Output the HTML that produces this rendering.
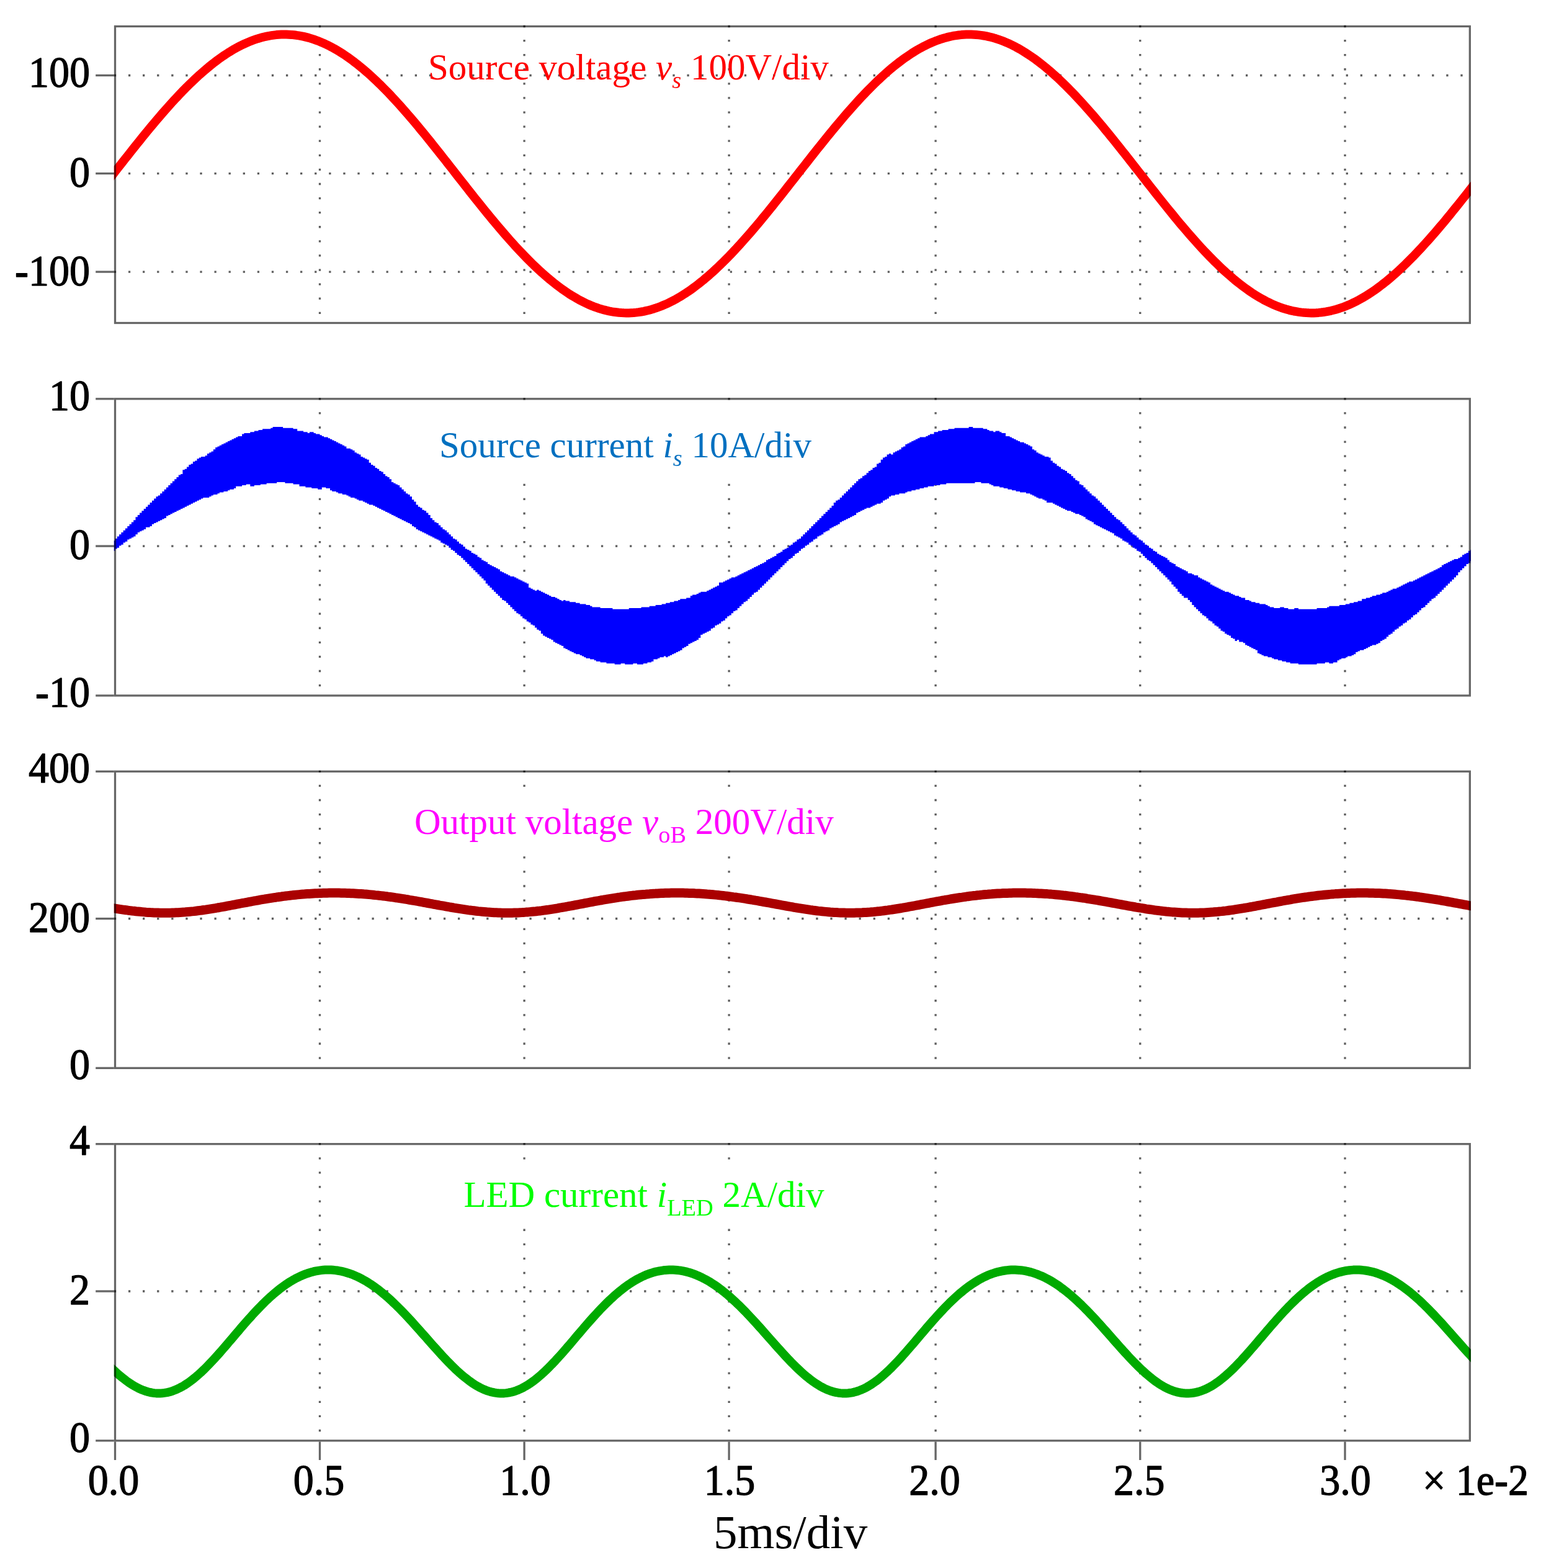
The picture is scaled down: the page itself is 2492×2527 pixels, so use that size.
<!DOCTYPE html>
<html lang="en"><head><meta charset="utf-8"><title>Simulated waveforms</title>
<style>
html,body{margin:0;padding:0;background:#fff;}
body{width:2492px;height:2527px;overflow:hidden;}
svg{display:block;}
text{font-family:'Liberation Serif',serif;}
.tk{font-size:70px;fill:#000;stroke:#000;stroke-width:1.3px;stroke-linejoin:round;}
.an{font-size:59px;}
.sub{font-size:38.4px;}
.it{font-style:italic;}
</style></head><body>
<svg width="2492" height="2527" viewBox="0 0 2492 2527" role="img" aria-label="Simulated waveforms: source voltage, source current, output voltage and LED current">
<rect x="0" y="0" width="2492" height="2527" fill="#fff"/>
<defs>
<clipPath id="c0"><rect x="183.8" y="40.9" width="2187.1" height="481.3"/></clipPath>
<clipPath id="c1"><rect x="183.8" y="641.1" width="2187.1" height="481.5"/></clipPath>
<clipPath id="c2"><rect x="183.8" y="1241.6" width="2187.1" height="481.3"/></clipPath>
<clipPath id="c3"><rect x="183.8" y="1842" width="2187.1" height="481.4"/></clipPath>
<filter id="soft" x="-5%" y="-5%" width="110%" height="110%" color-interpolation-filters="sRGB"><feGaussianBlur stdDeviation="0.7"/></filter>
</defs>
<g fill="none" stroke="rgba(0,0,0,0.63)" stroke-width="3.3" stroke-dasharray="3.3 19.79">
<path d="M515.5 40.85V517.9"/>
<path d="M845.1 40.85V517.9"/>
<path d="M1175.1 40.85V517.9"/>
<path d="M1508.1 40.85V517.9"/>
<path d="M1837.8 40.85V517.9"/>
<path d="M2168 40.85V517.9"/>
<path d="M183.85 121.5H2366.7"/>
<path d="M183.85 279.6H2366.7"/>
<path d="M183.85 438.1H2366.7"/>
<path d="M515.5 641.15V1118.3"/>
<path d="M845.1 641.15V1118.3"/>
<path d="M1175.1 641.15V1118.3"/>
<path d="M1508.1 641.15V1118.3"/>
<path d="M1837.8 641.15V1118.3"/>
<path d="M2168 641.15V1118.3"/>
<path d="M183.85 880.1H2366.7"/>
<path d="M515.5 1241.65V1718.6"/>
<path d="M845.1 1241.65V1718.6"/>
<path d="M1175.1 1241.65V1718.6"/>
<path d="M1508.1 1241.65V1718.6"/>
<path d="M1837.8 1241.65V1718.6"/>
<path d="M2168 1241.65V1718.6"/>
<path d="M183.85 1480.5H2366.7"/>
<path d="M515.5 1842.05V2319.2"/>
<path d="M845.1 1842.05V2319.2"/>
<path d="M1175.1 1842.05V2319.2"/>
<path d="M1508.1 1842.05V2319.2"/>
<path d="M1837.8 1842.05V2319.2"/>
<path d="M2168 1842.05V2319.2"/>
<path d="M183.85 2081H2366.7"/>
</g>
<rect x="690" y="652" width="640" height="118" fill="#fff"/>
<rect x="655" y="1278" width="705" height="92" fill="#fff"/>
<rect x="735" y="1878" width="610" height="92" fill="#fff"/>
<path clip-path="url(#c0)" d="M177.5 287.0L181.5 281.9L185.5 276.8L189.5 271.6L193.5 266.5L197.5 261.4L201.5 256.3L205.5 251.3L209.5 246.2L213.5 241.2L217.5 236.1L221.5 231.1L225.5 226.2L229.5 221.2L233.5 216.3L237.5 211.4L241.5 206.6L245.5 201.7L249.5 197.0L253.5 192.2L257.5 187.6L261.5 182.9L265.5 178.3L269.5 173.8L273.5 169.3L277.5 164.9L281.5 160.5L285.5 156.3L289.5 152.0L293.5 147.8L297.5 143.8L301.5 139.7L305.5 135.8L309.5 131.9L313.5 128.1L317.5 124.4L321.5 120.7L325.5 117.2L329.5 113.7L333.5 110.3L337.5 107.0L341.5 103.8L345.5 100.6L349.5 97.6L353.5 94.7L357.5 91.8L361.5 89.1L365.5 86.5L369.5 83.9L373.5 81.5L377.5 79.1L381.5 76.9L385.5 74.8L389.5 72.8L393.5 70.9L397.5 69.1L401.5 67.4L405.5 65.8L409.5 64.3L413.5 62.9L417.5 61.7L421.5 60.6L425.5 59.5L429.5 58.6L433.5 57.8L437.5 57.2L441.5 56.6L445.5 56.1L449.5 55.8L453.5 55.6L457.5 55.5L461.5 55.5L465.5 55.7L469.5 55.9L473.5 56.3L477.5 56.8L481.5 57.4L485.5 58.1L489.5 58.9L493.5 59.9L497.5 60.9L501.5 62.1L505.5 63.4L509.5 64.8L513.5 66.3L517.5 67.9L521.5 69.6L525.5 71.5L529.5 73.4L533.5 75.5L537.5 77.6L541.5 79.9L545.5 82.3L549.5 84.8L553.5 87.3L557.5 90.0L561.5 92.8L565.5 95.7L569.5 98.6L573.5 101.7L577.5 104.8L581.5 108.1L585.5 111.4L589.5 114.8L593.5 118.3L597.5 121.9L601.5 125.6L605.5 129.3L609.5 133.2L613.5 137.1L617.5 141.1L621.5 145.1L625.5 149.2L629.5 153.4L633.5 157.7L637.5 162.0L641.5 166.4L645.5 170.8L649.5 175.3L653.5 179.9L657.5 184.5L661.5 189.1L665.5 193.8L669.5 198.6L673.5 203.3L677.5 208.2L681.5 213.0L685.5 217.9L689.5 222.9L693.5 227.8L697.5 232.8L701.5 237.8L705.5 242.8L709.5 247.9L713.5 253.0L717.5 258.0L721.5 263.1L725.5 268.2L729.5 273.3L733.5 278.5L737.5 283.6L741.5 288.7L745.5 293.8L749.5 298.9L753.5 304.0L757.5 309.1L761.5 314.1L765.5 319.2L769.5 324.2L773.5 329.2L777.5 334.2L781.5 339.1L785.5 344.0L789.5 348.9L793.5 353.8L797.5 358.6L801.5 363.3L805.5 368.1L809.5 372.7L813.5 377.4L817.5 381.9L821.5 386.5L825.5 390.9L829.5 395.4L833.5 399.7L837.5 404.0L841.5 408.2L845.5 412.4L849.5 416.5L853.5 420.5L857.5 424.5L861.5 428.3L865.5 432.1L869.5 435.8L873.5 439.5L877.5 443.0L881.5 446.5L885.5 449.9L889.5 453.2L893.5 456.4L897.5 459.5L901.5 462.5L905.5 465.5L909.5 468.3L913.5 471.0L917.5 473.7L921.5 476.2L925.5 478.6L929.5 480.9L933.5 483.2L937.5 485.3L941.5 487.3L945.5 489.2L949.5 491.0L953.5 492.7L957.5 494.3L961.5 495.7L965.5 497.1L969.5 498.3L973.5 499.4L977.5 500.4L981.5 501.3L985.5 502.1L989.5 502.8L993.5 503.3L997.5 503.8L1001.5 504.1L1005.5 504.3L1009.5 504.4L1013.5 504.4L1017.5 504.2L1021.5 504.0L1025.5 503.6L1029.5 503.1L1033.5 502.5L1037.5 501.8L1041.5 500.9L1045.5 500.0L1049.5 498.9L1053.5 497.7L1057.5 496.4L1061.5 495.0L1065.5 493.5L1069.5 491.8L1073.5 490.1L1077.5 488.3L1081.5 486.3L1085.5 484.2L1089.5 482.1L1093.5 479.8L1097.5 477.4L1101.5 474.9L1105.5 472.3L1109.5 469.7L1113.5 466.9L1117.5 464.0L1121.5 461.0L1125.5 458.0L1129.5 454.8L1133.5 451.6L1137.5 448.2L1141.5 444.8L1145.5 441.3L1149.5 437.7L1153.5 434.0L1157.5 430.2L1161.5 426.4L1165.5 422.5L1169.5 418.5L1173.5 414.5L1177.5 410.3L1181.5 406.1L1185.5 401.9L1189.5 397.5L1193.5 393.2L1197.5 388.7L1201.5 384.2L1205.5 379.7L1209.5 375.1L1213.5 370.4L1217.5 365.7L1221.5 360.9L1225.5 356.2L1229.5 351.3L1233.5 346.5L1237.5 341.6L1241.5 336.6L1245.5 331.7L1249.5 326.7L1253.5 321.7L1257.5 316.6L1261.5 311.6L1265.5 306.5L1269.5 301.4L1273.5 296.3L1277.5 291.2L1281.5 286.1L1285.5 281.0L1289.5 275.9L1293.5 270.8L1297.5 265.7L1301.5 260.6L1305.5 255.5L1309.5 250.4L1313.5 245.4L1317.5 240.3L1321.5 235.3L1325.5 230.3L1329.5 225.3L1333.5 220.4L1337.5 215.5L1341.5 210.6L1345.5 205.7L1349.5 200.9L1353.5 196.2L1357.5 191.5L1361.5 186.8L1365.5 182.2L1369.5 177.6L1373.5 173.1L1377.5 168.6L1381.5 164.2L1385.5 159.8L1389.5 155.5L1393.5 151.3L1397.5 147.2L1401.5 143.1L1405.5 139.1L1409.5 135.1L1413.5 131.2L1417.5 127.5L1421.5 123.7L1425.5 120.1L1429.5 116.6L1433.5 113.1L1437.5 109.7L1441.5 106.4L1445.5 103.2L1449.5 100.1L1453.5 97.1L1457.5 94.2L1461.5 91.4L1465.5 88.7L1469.5 86.0L1473.5 83.5L1477.5 81.1L1481.5 78.8L1485.5 76.6L1489.5 74.4L1493.5 72.4L1497.5 70.5L1501.5 68.8L1505.5 67.1L1509.5 65.5L1513.5 64.1L1517.5 62.7L1521.5 61.5L1525.5 60.4L1529.5 59.4L1533.5 58.5L1537.5 57.7L1541.5 57.1L1545.5 56.5L1549.5 56.1L1553.5 55.8L1557.5 55.6L1561.5 55.5L1565.5 55.5L1569.5 55.7L1573.5 56.0L1577.5 56.4L1581.5 56.9L1585.5 57.5L1589.5 58.2L1593.5 59.1L1597.5 60.0L1601.5 61.1L1605.5 62.3L1609.5 63.6L1613.5 65.0L1617.5 66.6L1621.5 68.2L1625.5 69.9L1629.5 71.8L1633.5 73.8L1637.5 75.8L1641.5 78.0L1645.5 80.3L1649.5 82.7L1653.5 85.2L1657.5 87.8L1661.5 90.5L1665.5 93.3L1669.5 96.1L1673.5 99.1L1677.5 102.2L1681.5 105.4L1685.5 108.6L1689.5 112.0L1693.5 115.4L1697.5 118.9L1701.5 122.5L1705.5 126.2L1709.5 130.0L1713.5 133.8L1717.5 137.7L1721.5 141.7L1725.5 145.8L1729.5 149.9L1733.5 154.1L1737.5 158.4L1741.5 162.7L1745.5 167.1L1749.5 171.6L1753.5 176.1L1757.5 180.6L1761.5 185.2L1765.5 189.9L1769.5 194.6L1773.5 199.3L1777.5 204.1L1781.5 209.0L1785.5 213.8L1789.5 218.7L1793.5 223.7L1797.5 228.6L1801.5 233.6L1805.5 238.6L1809.5 243.7L1813.5 248.7L1817.5 253.8L1821.5 258.9L1825.5 264.0L1829.5 269.1L1833.5 274.2L1837.5 279.3L1841.5 284.4L1845.5 289.5L1849.5 294.6L1853.5 299.7L1857.5 304.8L1861.5 309.9L1865.5 315.0L1869.5 320.0L1873.5 325.0L1877.5 330.0L1881.5 335.0L1885.5 339.9L1889.5 344.8L1893.5 349.7L1897.5 354.6L1901.5 359.4L1905.5 364.1L1909.5 368.8L1913.5 373.5L1917.5 378.1L1921.5 382.7L1925.5 387.2L1929.5 391.7L1933.5 396.1L1937.5 400.4L1941.5 404.7L1945.5 408.9L1949.5 413.1L1953.5 417.2L1957.5 421.2L1961.5 425.1L1965.5 429.0L1969.5 432.8L1973.5 436.5L1977.5 440.1L1981.5 443.6L1985.5 447.1L1989.5 450.5L1993.5 453.7L1997.5 456.9L2001.5 460.0L2005.5 463.0L2009.5 465.9L2013.5 468.7L2017.5 471.5L2021.5 474.1L2025.5 476.6L2029.5 479.0L2033.5 481.3L2037.5 483.5L2041.5 485.6L2045.5 487.6L2049.5 489.5L2053.5 491.3L2057.5 492.9L2061.5 494.5L2065.5 496.0L2069.5 497.3L2073.5 498.5L2077.5 499.6L2081.5 500.6L2085.5 501.5L2089.5 502.2L2093.5 502.9L2097.5 503.4L2101.5 503.8L2105.5 504.1L2109.5 504.3L2113.5 504.4L2117.5 504.4L2121.5 504.2L2125.5 503.9L2129.5 503.5L2133.5 503.0L2137.5 502.4L2141.5 501.6L2145.5 500.8L2149.5 499.8L2153.5 498.7L2157.5 497.5L2161.5 496.2L2165.5 494.8L2169.5 493.2L2173.5 491.6L2177.5 489.8L2181.5 487.9L2185.5 486.0L2189.5 483.9L2193.5 481.7L2197.5 479.4L2201.5 477.0L2205.5 474.5L2209.5 471.9L2213.5 469.2L2217.5 466.4L2221.5 463.5L2225.5 460.5L2229.5 457.4L2233.5 454.3L2237.5 451.0L2241.5 447.6L2245.5 444.2L2249.5 440.7L2253.5 437.1L2257.5 433.4L2261.5 429.6L2265.5 425.8L2269.5 421.8L2273.5 417.8L2277.5 413.8L2281.5 409.6L2285.5 405.4L2289.5 401.2L2293.5 396.8L2297.5 392.4L2301.5 388.0L2305.5 383.5L2309.5 378.9L2313.5 374.3L2317.5 369.6L2321.5 364.9L2325.5 360.2L2329.5 355.4L2333.5 350.5L2337.5 345.7L2341.5 340.7L2345.5 335.8L2349.5 330.8L2353.5 325.9L2357.5 320.8L2361.5 315.8L2365.5 310.7L2369.5 305.7L2373.5 300.6L2377.3 295.7" fill="none" stroke="#ff0000" stroke-width="14.0" stroke-linejoin="round"/>
<path clip-path="url(#c1)" d="M175.6 876.1L178.9 876.1L178.9 874.5L182.2 874.5L182.2 871.2L185.5 871.2L185.5 867.9L188.8 867.9L188.8 864.6L192.1 864.6L192.1 861.3L195.4 861.3L195.4 858.0L198.7 858.0L198.7 854.7L202.0 854.7L202.0 851.4L205.3 851.4L205.3 848.1L208.6 848.1L208.6 844.8L211.9 844.8L211.9 841.5L215.2 841.5L215.2 838.2L218.5 838.2L218.5 833.2L221.8 833.2L221.8 829.9L225.1 829.9L225.1 826.6L228.4 826.6L228.4 823.3L231.7 823.3L231.7 820.0L235.0 820.0L235.0 816.8L238.3 816.8L238.3 813.4L241.6 813.4L241.6 810.1L244.9 810.1L244.9 806.8L248.2 806.8L248.2 803.5L251.5 803.5L251.5 800.2L254.8 800.2L254.8 798.6L258.1 798.6L258.1 795.3L261.4 795.3L261.4 792.0L264.7 792.0L264.7 788.7L268.0 788.7L268.0 785.4L271.3 785.4L271.3 782.1L274.6 782.1L274.6 778.8L277.9 778.8L277.9 775.5L281.2 775.5L281.2 772.2L284.5 772.2L284.5 768.9L287.8 768.9L287.8 765.6L291.1 765.6L291.1 763.9L294.4 763.9L294.4 757.3L297.7 757.3L297.7 755.7L301.0 755.7L301.0 752.4L304.3 752.4L304.3 749.1L307.6 749.1L307.6 747.4L310.9 747.4L310.9 744.1L314.2 744.1L314.2 742.5L317.5 742.5L317.5 739.2L320.8 739.2L320.8 737.5L324.1 737.5L324.1 735.9L327.4 735.9L327.4 735.9L330.7 735.9L330.7 734.2L334.0 734.2L334.0 730.9L337.3 730.9L337.3 729.3L340.6 729.3L340.6 727.6L343.9 727.6L343.9 724.3L347.2 724.3L347.2 721.0L350.5 721.0L350.5 719.4L353.8 719.4L353.8 717.8L357.1 717.8L357.1 716.1L360.4 716.1L360.4 714.4L363.7 714.4L363.7 712.8L367.0 712.8L367.0 711.1L370.3 711.1L370.3 709.5L373.6 709.5L373.6 707.8L376.9 707.8L376.9 706.2L380.2 706.2L380.2 704.5L383.5 704.5L383.5 702.9L386.8 702.9L386.8 702.9L390.1 702.9L390.1 699.6L393.4 699.6L393.4 697.9L396.7 697.9L396.7 697.9L400.0 697.9L400.0 697.9L403.3 697.9L403.3 696.3L406.6 696.3L406.6 696.3L409.9 696.3L409.9 694.6L413.2 694.6L413.2 694.6L416.5 694.6L416.5 693.0L419.8 693.0L419.8 693.0L423.1 693.0L423.1 691.3L426.4 691.3L426.4 691.3L429.7 691.3L429.7 691.3L433.0 691.3L433.0 691.3L436.3 691.3L436.3 689.7L439.6 689.7L439.6 688.0L442.9 688.0L442.9 688.0L446.2 688.0L446.2 688.0L449.5 688.0L449.5 688.0L452.8 688.0L452.8 688.0L456.1 688.0L456.1 689.7L459.4 689.7L459.4 689.7L462.7 689.7L462.7 689.7L466.0 689.7L466.0 689.7L469.3 689.7L469.3 689.7L472.6 689.7L472.6 691.3L475.9 691.3L475.9 691.3L479.2 691.3L479.2 694.6L482.5 694.6L482.5 694.6L485.8 694.6L485.8 694.6L489.1 694.6L489.1 696.3L492.4 696.3L492.4 696.3L495.7 696.3L495.7 697.9L499.0 697.9L499.0 696.3L502.3 696.3L502.3 696.3L505.6 696.3L505.6 697.9L508.9 697.9L508.9 699.6L512.2 699.6L512.2 699.6L515.5 699.6L515.5 701.2L518.8 701.2L518.8 702.9L522.1 702.9L522.1 704.5L525.4 704.5L525.4 704.5L528.7 704.5L528.7 706.2L532.0 706.2L532.0 707.8L535.3 707.8L535.3 709.5L538.6 709.5L538.6 711.1L541.9 711.1L541.9 712.8L545.2 712.8L545.2 714.4L548.5 714.4L548.5 716.1L551.8 716.1L551.8 717.8L555.1 717.8L555.1 719.4L558.4 719.4L558.4 722.7L561.7 722.7L561.7 722.7L565.0 722.7L565.0 724.3L568.3 724.3L568.3 726.0L571.6 726.0L571.6 729.3L574.9 729.3L574.9 730.9L578.2 730.9L578.2 732.6L581.5 732.6L581.5 735.9L584.8 735.9L584.8 737.5L588.1 737.5L588.1 739.2L591.4 739.2L591.4 740.8L594.7 740.8L594.7 745.8L598.0 745.8L598.0 749.1L601.3 749.1L601.3 750.8L604.6 750.8L604.6 754.0L607.9 754.0L607.9 755.7L611.2 755.7L611.2 759.0L614.5 759.0L614.5 760.6L617.8 760.6L617.8 763.9L621.1 763.9L621.1 767.2L624.4 767.2L624.4 768.9L627.7 768.9L627.7 772.2L631.0 772.2L631.0 777.1L634.3 777.1L634.3 778.8L637.6 778.8L637.6 780.4L640.9 780.4L640.9 782.1L644.2 782.1L644.2 785.4L647.5 785.4L647.5 788.7L650.8 788.7L650.8 792.0L654.1 792.0L654.1 795.3L657.4 795.3L657.4 796.9L660.7 796.9L660.7 800.2L664.0 800.2L664.0 805.2L667.3 805.2L667.3 808.5L670.6 808.5L670.6 813.4L673.9 813.4L673.9 816.8L677.2 816.8L677.2 818.4L680.5 818.4L680.5 821.7L683.8 821.7L683.8 823.3L687.1 823.3L687.1 826.6L690.4 826.6L690.4 829.9L693.7 829.9L693.7 834.9L697.0 834.9L697.0 838.2L700.3 838.2L700.3 841.5L703.6 841.5L703.6 843.1L706.9 843.1L706.9 846.4L710.2 846.4L710.2 849.8L713.5 849.8L713.5 853.0L716.8 853.0L716.8 854.7L720.1 854.7L720.1 858.0L723.4 858.0L723.4 861.3L726.7 861.3L726.7 864.6L730.0 864.6L730.0 867.9L733.3 867.9L733.3 869.5L736.6 869.5L736.6 872.8L739.9 872.8L739.9 876.1L743.2 876.1L743.2 877.8L746.5 877.8L746.5 881.1L749.8 881.1L749.8 884.4L753.1 884.4L753.1 886.0L756.4 886.0L756.4 887.7L759.7 887.7L759.7 891.0L763.0 891.0L763.0 892.6L766.3 892.6L766.3 894.3L769.6 894.3L769.6 897.6L772.9 897.6L772.9 899.2L776.2 899.2L776.2 902.5L779.5 902.5L779.5 904.2L782.8 904.2L782.8 905.8L786.1 905.8L786.1 909.1L789.4 909.1L789.4 910.8L792.7 910.8L792.7 912.4L796.0 912.4L796.0 914.1L799.3 914.1L799.3 915.8L802.6 915.8L802.6 917.4L805.9 917.4L805.9 920.7L809.2 920.7L809.2 922.3L812.5 922.3L812.5 924.0L815.8 924.0L815.8 925.6L819.1 925.6L819.1 927.3L822.4 927.3L822.4 928.9L825.7 928.9L825.7 928.9L829.0 928.9L829.0 930.6L832.3 930.6L832.3 932.2L835.6 932.2L835.6 933.9L838.9 933.9L838.9 935.5L842.2 935.5L842.2 937.2L845.5 937.2L845.5 938.8L848.8 938.8L848.8 940.5L852.1 940.5L852.1 947.1L855.4 947.1L855.4 948.8L858.7 948.8L858.7 950.4L862.0 950.4L862.0 952.0L865.3 952.0L865.3 950.4L868.6 950.4L868.6 952.0L871.9 952.0L871.9 953.7L875.2 953.7L875.2 955.3L878.5 955.3L878.5 957.0L881.8 957.0L881.8 958.6L885.1 958.6L885.1 960.3L888.4 960.3L888.4 961.9L891.7 961.9L891.7 961.9L895.0 961.9L895.0 963.6L898.3 963.6L898.3 965.2L901.6 965.2L901.6 966.9L904.9 966.9L904.9 968.5L908.2 968.5L908.2 966.9L911.5 966.9L911.5 968.5L914.8 968.5L914.8 968.5L918.1 968.5L918.1 970.2L921.4 970.2L921.4 970.2L924.7 970.2L924.7 970.2L928.0 970.2L928.0 971.8L931.3 971.8L931.3 971.8L934.6 971.8L934.6 973.5L937.9 973.5L937.9 973.5L941.2 973.5L941.2 973.5L944.5 973.5L944.5 975.1L947.8 975.1L947.8 975.1L951.1 975.1L951.1 976.8L954.4 976.8L954.4 978.4L957.7 978.4L957.7 978.4L961.0 978.4L961.0 978.4L964.3 978.4L964.3 978.4L967.6 978.4L967.6 980.1L970.9 980.1L970.9 980.1L974.2 980.1L974.2 980.1L977.5 980.1L977.5 980.1L980.8 980.1L980.8 980.1L984.1 980.1L984.1 980.1L987.4 980.1L987.4 981.8L990.7 981.8L990.7 981.8L994.0 981.8L994.0 981.8L997.3 981.8L997.3 981.8L1000.6 981.8L1000.6 981.8L1003.9 981.8L1003.9 981.8L1007.2 981.8L1007.2 981.8L1010.5 981.8L1010.5 981.8L1013.8 981.8L1013.8 980.1L1017.1 980.1L1017.1 980.1L1020.4 980.1L1020.4 980.1L1023.7 980.1L1023.7 980.1L1027.0 980.1L1027.0 980.1L1030.3 980.1L1030.3 980.1L1033.6 980.1L1033.6 978.4L1036.9 978.4L1036.9 978.4L1040.2 978.4L1040.2 978.4L1043.5 978.4L1043.5 978.4L1046.8 978.4L1046.8 976.8L1050.1 976.8L1050.1 976.8L1053.4 976.8L1053.4 976.8L1056.7 976.8L1056.7 975.1L1060.0 975.1L1060.0 975.1L1063.3 975.1L1063.3 975.1L1066.6 975.1L1066.6 973.5L1069.9 973.5L1069.9 973.5L1073.2 973.5L1073.2 971.8L1076.5 971.8L1076.5 971.8L1079.8 971.8L1079.8 970.2L1083.1 970.2L1083.1 970.2L1086.4 970.2L1086.4 968.5L1089.7 968.5L1089.7 968.5L1093.0 968.5L1093.0 966.9L1096.3 966.9L1096.3 965.2L1099.6 965.2L1099.6 965.2L1102.9 965.2L1102.9 965.2L1106.2 965.2L1106.2 963.6L1109.5 963.6L1109.5 963.6L1112.8 963.6L1112.8 960.3L1116.1 960.3L1116.1 958.6L1119.4 958.6L1119.4 958.6L1122.7 958.6L1122.7 957.0L1126.0 957.0L1126.0 955.3L1129.3 955.3L1129.3 953.7L1132.6 953.7L1132.6 953.7L1135.9 953.7L1135.9 953.7L1139.2 953.7L1139.2 952.0L1142.5 952.0L1142.5 950.4L1145.8 950.4L1145.8 948.8L1149.1 948.8L1149.1 947.1L1152.4 947.1L1152.4 945.4L1155.7 945.4L1155.7 943.8L1159.0 943.8L1159.0 938.8L1162.3 938.8L1162.3 938.8L1165.6 938.8L1165.6 937.2L1168.9 937.2L1168.9 935.5L1172.2 935.5L1172.2 933.9L1175.5 933.9L1175.5 932.2L1178.8 932.2L1178.8 930.6L1182.1 930.6L1182.1 930.6L1185.4 930.6L1185.4 928.9L1188.7 928.9L1188.7 927.3L1192.0 927.3L1192.0 925.6L1195.3 925.6L1195.3 924.0L1198.6 924.0L1198.6 922.3L1201.9 922.3L1201.9 920.7L1205.2 920.7L1205.2 919.0L1208.5 919.0L1208.5 917.4L1211.8 917.4L1211.8 915.8L1215.1 915.8L1215.1 914.1L1218.4 914.1L1218.4 912.4L1221.7 912.4L1221.7 910.8L1225.0 910.8L1225.0 909.1L1228.3 909.1L1228.3 907.5L1231.6 907.5L1231.6 905.8L1234.9 905.8L1234.9 902.5L1238.2 902.5L1238.2 900.9L1241.5 900.9L1241.5 899.2L1244.8 899.2L1244.8 897.6L1248.1 897.6L1248.1 895.9L1251.4 895.9L1251.4 892.6L1254.7 892.6L1254.7 891.0L1258.0 891.0L1258.0 889.3L1261.3 889.3L1261.3 886.0L1264.6 886.0L1264.6 884.4L1267.9 884.4L1267.9 882.8L1271.2 882.8L1271.2 879.4L1274.5 879.4L1274.5 877.8L1277.8 877.8L1277.8 874.5L1281.1 874.5L1281.1 872.8L1284.4 872.8L1284.4 869.5L1287.7 869.5L1287.7 867.9L1291.0 867.9L1291.0 864.6L1294.3 864.6L1294.3 861.3L1297.6 861.3L1297.6 858.0L1300.9 858.0L1300.9 854.7L1304.2 854.7L1304.2 851.4L1307.5 851.4L1307.5 848.1L1310.8 848.1L1310.8 844.8L1314.1 844.8L1314.1 841.5L1317.4 841.5L1317.4 838.2L1320.7 838.2L1320.7 834.9L1324.0 834.9L1324.0 831.6L1327.3 831.6L1327.3 828.3L1330.6 828.3L1330.6 825.0L1333.9 825.0L1333.9 821.7L1337.2 821.7L1337.2 818.4L1340.5 818.4L1340.5 815.1L1343.8 815.1L1343.8 810.1L1347.1 810.1L1347.1 806.8L1350.4 806.8L1350.4 805.2L1353.7 805.2L1353.7 801.9L1357.0 801.9L1357.0 798.6L1360.3 798.6L1360.3 795.3L1363.6 795.3L1363.6 792.0L1366.9 792.0L1366.9 788.7L1370.2 788.7L1370.2 785.4L1373.5 785.4L1373.5 782.1L1376.8 782.1L1376.8 778.8L1380.1 778.8L1380.1 775.5L1383.4 775.5L1383.4 772.2L1386.7 772.2L1386.7 770.5L1390.0 770.5L1390.0 767.2L1393.3 767.2L1393.3 765.6L1396.6 765.6L1396.6 762.3L1399.9 762.3L1399.9 759.0L1403.2 759.0L1403.2 757.3L1406.5 757.3L1406.5 754.0L1409.8 754.0L1409.8 752.4L1413.1 752.4L1413.1 747.4L1416.4 747.4L1416.4 745.8L1419.7 745.8L1419.7 740.8L1423.0 740.8L1423.0 737.5L1426.3 737.5L1426.3 735.9L1429.6 735.9L1429.6 732.6L1432.9 732.6L1432.9 730.9L1436.2 730.9L1436.2 732.6L1439.5 732.6L1439.5 729.3L1442.8 729.3L1442.8 727.6L1446.1 727.6L1446.1 726.0L1449.4 726.0L1449.4 724.3L1452.7 724.3L1452.7 721.0L1456.0 721.0L1456.0 719.4L1459.3 719.4L1459.3 716.1L1462.6 716.1L1462.6 714.4L1465.9 714.4L1465.9 712.8L1469.2 712.8L1469.2 711.1L1472.5 711.1L1472.5 709.5L1475.8 709.5L1475.8 707.8L1479.1 707.8L1479.1 706.2L1482.4 706.2L1482.4 704.5L1485.7 704.5L1485.7 704.5L1489.0 704.5L1489.0 704.5L1492.3 704.5L1492.3 702.9L1495.6 702.9L1495.6 701.2L1498.9 701.2L1498.9 699.6L1502.2 699.6L1502.2 699.6L1505.5 699.6L1505.5 696.3L1508.8 696.3L1508.8 696.3L1512.1 696.3L1512.1 694.6L1515.4 694.6L1515.4 694.6L1518.7 694.6L1518.7 693.0L1522.0 693.0L1522.0 693.0L1525.3 693.0L1525.3 693.0L1528.6 693.0L1528.6 691.3L1531.9 691.3L1531.9 691.3L1535.2 691.3L1535.2 691.3L1538.5 691.3L1538.5 689.7L1541.8 689.7L1541.8 689.7L1545.1 689.7L1545.1 689.7L1548.4 689.7L1548.4 689.7L1551.7 689.7L1551.7 689.7L1555.0 689.7L1555.0 689.7L1558.3 689.7L1558.3 689.7L1561.6 689.7L1561.6 688.0L1564.9 688.0L1564.9 688.0L1568.2 688.0L1568.2 689.7L1571.5 689.7L1571.5 689.7L1574.8 689.7L1574.8 689.7L1578.1 689.7L1578.1 689.7L1581.4 689.7L1581.4 689.7L1584.7 689.7L1584.7 691.3L1588.0 691.3L1588.0 691.3L1591.3 691.3L1591.3 693.0L1594.6 693.0L1594.6 694.6L1597.9 694.6L1597.9 694.6L1601.2 694.6L1601.2 696.3L1604.5 696.3L1604.5 694.6L1607.8 694.6L1607.8 694.6L1611.1 694.6L1611.1 696.3L1614.4 696.3L1614.4 697.9L1617.7 697.9L1617.7 697.9L1621.0 697.9L1621.0 702.9L1624.3 702.9L1624.3 702.9L1627.6 702.9L1627.6 704.5L1630.9 704.5L1630.9 706.2L1634.2 706.2L1634.2 707.8L1637.5 707.8L1637.5 709.5L1640.8 709.5L1640.8 711.1L1644.1 711.1L1644.1 712.8L1647.4 712.8L1647.4 712.8L1650.7 712.8L1650.7 714.4L1654.0 714.4L1654.0 716.1L1657.3 716.1L1657.3 717.8L1660.6 717.8L1660.6 719.4L1663.9 719.4L1663.9 724.3L1667.2 724.3L1667.2 726.0L1670.5 726.0L1670.5 729.3L1673.8 729.3L1673.8 730.9L1677.1 730.9L1677.1 732.6L1680.4 732.6L1680.4 734.2L1683.7 734.2L1683.7 735.9L1687.0 735.9L1687.0 735.9L1690.3 735.9L1690.3 737.5L1693.6 737.5L1693.6 742.5L1696.9 742.5L1696.9 745.8L1700.2 745.8L1700.2 747.4L1703.5 747.4L1703.5 750.8L1706.8 750.8L1706.8 752.4L1710.1 752.4L1710.1 755.7L1713.4 755.7L1713.4 757.3L1716.7 757.3L1716.7 759.0L1720.0 759.0L1720.0 762.3L1723.3 762.3L1723.3 763.9L1726.6 763.9L1726.6 767.2L1729.9 767.2L1729.9 770.5L1733.2 770.5L1733.2 773.8L1736.5 773.8L1736.5 775.5L1739.8 775.5L1739.8 780.4L1743.1 780.4L1743.1 782.1L1746.4 782.1L1746.4 785.4L1749.7 785.4L1749.7 788.7L1753.0 788.7L1753.0 792.0L1756.3 792.0L1756.3 795.3L1759.6 795.3L1759.6 798.6L1762.9 798.6L1762.9 800.2L1766.2 800.2L1766.2 803.5L1769.5 803.5L1769.5 806.8L1772.8 806.8L1772.8 810.1L1776.1 810.1L1776.1 813.4L1779.4 813.4L1779.4 816.8L1782.7 816.8L1782.7 820.0L1786.0 820.0L1786.0 823.3L1789.3 823.3L1789.3 826.6L1792.6 826.6L1792.6 829.9L1795.9 829.9L1795.9 833.2L1799.2 833.2L1799.2 836.5L1802.5 836.5L1802.5 838.2L1805.8 838.2L1805.8 841.5L1809.1 841.5L1809.1 844.8L1812.4 844.8L1812.4 848.1L1815.7 848.1L1815.7 851.4L1819.0 851.4L1819.0 854.7L1822.3 854.7L1822.3 858.0L1825.6 858.0L1825.6 861.3L1828.9 861.3L1828.9 862.9L1832.2 862.9L1832.2 866.2L1835.5 866.2L1835.5 869.5L1838.8 869.5L1838.8 871.2L1842.1 871.2L1842.1 874.5L1845.4 874.5L1845.4 877.8L1848.7 877.8L1848.7 879.4L1852.0 879.4L1852.0 882.8L1855.3 882.8L1855.3 884.4L1858.6 884.4L1858.6 887.7L1861.9 887.7L1861.9 889.3L1865.2 889.3L1865.2 892.6L1868.5 892.6L1868.5 894.3L1871.8 894.3L1871.8 895.9L1875.1 895.9L1875.1 897.6L1878.4 897.6L1878.4 899.2L1881.7 899.2L1881.7 902.5L1885.0 902.5L1885.0 905.8L1888.3 905.8L1888.3 907.5L1891.6 907.5L1891.6 909.1L1894.9 909.1L1894.9 912.4L1898.2 912.4L1898.2 914.1L1901.5 914.1L1901.5 915.8L1904.8 915.8L1904.8 917.4L1908.1 917.4L1908.1 919.0L1911.4 919.0L1911.4 920.7L1914.7 920.7L1914.7 924.0L1918.0 924.0L1918.0 924.0L1921.3 924.0L1921.3 925.6L1924.6 925.6L1924.6 927.3L1927.9 927.3L1927.9 927.3L1931.2 927.3L1931.2 930.6L1934.5 930.6L1934.5 932.2L1937.8 932.2L1937.8 933.9L1941.1 933.9L1941.1 935.5L1944.4 935.5L1944.4 937.2L1947.7 937.2L1947.7 938.8L1951.0 938.8L1951.0 942.1L1954.3 942.1L1954.3 943.8L1957.6 943.8L1957.6 945.4L1960.9 945.4L1960.9 947.1L1964.2 947.1L1964.2 948.8L1967.5 948.8L1967.5 950.4L1970.8 950.4L1970.8 952.0L1974.1 952.0L1974.1 953.7L1977.4 953.7L1977.4 953.7L1980.7 953.7L1980.7 955.3L1984.0 955.3L1984.0 957.0L1987.3 957.0L1987.3 958.6L1990.6 958.6L1990.6 960.3L1993.9 960.3L1993.9 960.3L1997.2 960.3L1997.2 961.9L2000.5 961.9L2000.5 963.6L2003.8 963.6L2003.8 963.6L2007.1 963.6L2007.1 966.9L2010.4 966.9L2010.4 966.9L2013.7 966.9L2013.7 968.5L2017.0 968.5L2017.0 970.2L2020.3 970.2L2020.3 970.2L2023.6 970.2L2023.6 971.8L2026.9 971.8L2026.9 971.8L2030.2 971.8L2030.2 973.5L2033.5 973.5L2033.5 973.5L2036.8 973.5L2036.8 973.5L2040.1 973.5L2040.1 975.1L2043.4 975.1L2043.4 976.8L2046.7 976.8L2046.7 978.4L2050.0 978.4L2050.0 978.4L2053.3 978.4L2053.3 980.1L2056.6 980.1L2056.6 980.1L2059.9 980.1L2059.9 980.1L2063.2 980.1L2063.2 978.4L2066.5 978.4L2066.5 978.4L2069.8 978.4L2069.8 980.1L2073.1 980.1L2073.1 980.1L2076.4 980.1L2076.4 981.8L2079.7 981.8L2079.7 981.8L2083.0 981.8L2083.0 981.8L2086.3 981.8L2086.3 980.1L2089.6 980.1L2089.6 980.1L2092.9 980.1L2092.9 981.8L2096.2 981.8L2096.2 981.8L2099.5 981.8L2099.5 981.8L2102.8 981.8L2102.8 981.8L2106.1 981.8L2106.1 981.8L2109.4 981.8L2109.4 981.8L2112.7 981.8L2112.7 981.8L2116.0 981.8L2116.0 981.8L2119.3 981.8L2119.3 981.8L2122.6 981.8L2122.6 980.1L2125.9 980.1L2125.9 980.1L2129.2 980.1L2129.2 980.1L2132.5 980.1L2132.5 980.1L2135.8 980.1L2135.8 980.1L2139.1 980.1L2139.1 978.4L2142.4 978.4L2142.4 976.8L2145.7 976.8L2145.7 976.8L2149.0 976.8L2149.0 976.8L2152.3 976.8L2152.3 976.8L2155.6 976.8L2155.6 976.8L2158.9 976.8L2158.9 975.1L2162.2 975.1L2162.2 975.1L2165.5 975.1L2165.5 975.1L2168.8 975.1L2168.8 973.5L2172.1 973.5L2172.1 973.5L2175.4 973.5L2175.4 971.8L2178.7 971.8L2178.7 971.8L2182.0 971.8L2182.0 970.2L2185.3 970.2L2185.3 970.2L2188.6 970.2L2188.6 968.5L2191.9 968.5L2191.9 968.5L2195.2 968.5L2195.2 965.2L2198.5 965.2L2198.5 965.2L2201.8 965.2L2201.8 963.6L2205.1 963.6L2205.1 963.6L2208.4 963.6L2208.4 961.9L2211.7 961.9L2211.7 960.3L2215.0 960.3L2215.0 960.3L2218.3 960.3L2218.3 958.6L2221.6 958.6L2221.6 958.6L2224.9 958.6L2224.9 957.0L2228.2 957.0L2228.2 955.3L2231.5 955.3L2231.5 955.3L2234.8 955.3L2234.8 953.7L2238.1 953.7L2238.1 952.0L2241.4 952.0L2241.4 950.4L2244.7 950.4L2244.7 948.8L2248.0 948.8L2248.0 948.8L2251.3 948.8L2251.3 947.1L2254.6 947.1L2254.6 945.4L2257.9 945.4L2257.9 943.8L2261.2 943.8L2261.2 942.1L2264.5 942.1L2264.5 940.5L2267.8 940.5L2267.8 938.8L2271.1 938.8L2271.1 937.2L2274.4 937.2L2274.4 937.2L2277.7 937.2L2277.7 935.5L2281.0 935.5L2281.0 933.9L2284.3 933.9L2284.3 932.2L2287.6 932.2L2287.6 930.6L2290.9 930.6L2290.9 928.9L2294.2 928.9L2294.2 927.3L2297.5 927.3L2297.5 925.6L2300.8 925.6L2300.8 924.0L2304.1 924.0L2304.1 922.3L2307.4 922.3L2307.4 920.7L2310.7 920.7L2310.7 919.0L2314.0 919.0L2314.0 917.4L2317.3 917.4L2317.3 915.8L2320.6 915.8L2320.6 914.1L2323.9 914.1L2323.9 910.8L2327.2 910.8L2327.2 909.1L2330.5 909.1L2330.5 907.5L2333.8 907.5L2333.8 905.8L2337.1 905.8L2337.1 904.2L2340.4 904.2L2340.4 902.5L2343.7 902.5L2343.7 900.9L2347.0 900.9L2347.0 900.9L2350.3 900.9L2350.3 899.2L2353.6 899.2L2353.6 897.6L2356.9 897.6L2356.9 894.3L2360.2 894.3L2360.2 892.6L2363.5 892.6L2363.5 891.0L2366.8 891.0L2366.8 887.7L2370.1 887.7L2370.1 886.0L2373.4 886.0L2373.4 882.8L2376.7 882.8L2376.7 881.1L2380.0 881.1L2380.0 877.8L2383.3 877.8L2383.3 894.3L2380.0 894.3L2380.0 897.6L2376.7 897.6L2376.7 900.9L2373.4 900.9L2373.4 904.2L2370.1 904.2L2370.1 907.5L2366.8 907.5L2366.8 909.1L2363.5 909.1L2363.5 912.4L2360.2 912.4L2360.2 915.8L2356.9 915.8L2356.9 919.0L2353.6 919.0L2353.6 922.3L2350.3 922.3L2350.3 927.3L2347.0 927.3L2347.0 930.6L2343.7 930.6L2343.7 933.9L2340.4 933.9L2340.4 937.2L2337.1 937.2L2337.1 940.5L2333.8 940.5L2333.8 943.8L2330.5 943.8L2330.5 947.1L2327.2 947.1L2327.2 950.4L2323.9 950.4L2323.9 953.7L2320.6 953.7L2320.6 957.0L2317.3 957.0L2317.3 960.3L2314.0 960.3L2314.0 963.6L2310.7 963.6L2310.7 965.2L2307.4 965.2L2307.4 968.5L2304.1 968.5L2304.1 971.8L2300.8 971.8L2300.8 975.1L2297.5 975.1L2297.5 978.4L2294.2 978.4L2294.2 980.1L2290.9 980.1L2290.9 983.4L2287.6 983.4L2287.6 986.7L2284.3 986.7L2284.3 990.0L2281.0 990.0L2281.0 991.6L2277.7 991.6L2277.7 994.9L2274.4 994.9L2274.4 998.2L2271.1 998.2L2271.1 999.9L2267.8 999.9L2267.8 1003.2L2264.5 1003.2L2264.5 1004.8L2261.2 1004.8L2261.2 1008.1L2257.9 1008.1L2257.9 1009.8L2254.6 1009.8L2254.6 1013.1L2251.3 1013.1L2251.3 1014.8L2248.0 1014.8L2248.0 1018.0L2244.7 1018.0L2244.7 1021.3L2241.4 1021.3L2241.4 1023.0L2238.1 1023.0L2238.1 1026.3L2234.8 1026.3L2234.8 1029.6L2231.5 1029.6L2231.5 1031.2L2228.2 1031.2L2228.2 1032.9L2224.9 1032.9L2224.9 1036.2L2221.6 1036.2L2221.6 1037.8L2218.3 1037.8L2218.3 1039.5L2215.0 1039.5L2215.0 1039.5L2211.7 1039.5L2211.7 1041.1L2208.4 1041.1L2208.4 1042.8L2205.1 1042.8L2205.1 1044.5L2201.8 1044.5L2201.8 1046.1L2198.5 1046.1L2198.5 1047.8L2195.2 1047.8L2195.2 1047.8L2191.9 1047.8L2191.9 1049.4L2188.6 1049.4L2188.6 1051.0L2185.3 1051.0L2185.3 1054.3L2182.0 1054.3L2182.0 1056.0L2178.7 1056.0L2178.7 1057.6L2175.4 1057.6L2175.4 1057.6L2172.1 1057.6L2172.1 1059.3L2168.8 1059.3L2168.8 1061.0L2165.5 1061.0L2165.5 1061.0L2162.2 1061.0L2162.2 1062.6L2158.9 1062.6L2158.9 1064.2L2155.6 1064.2L2155.6 1067.5L2152.3 1067.5L2152.3 1067.5L2149.0 1067.5L2149.0 1069.2L2145.7 1069.2L2145.7 1069.2L2142.4 1069.2L2142.4 1067.5L2139.1 1067.5L2139.1 1067.5L2135.8 1067.5L2135.8 1069.2L2132.5 1069.2L2132.5 1069.2L2129.2 1069.2L2129.2 1069.2L2125.9 1069.2L2125.9 1069.2L2122.6 1069.2L2122.6 1070.8L2119.3 1070.8L2119.3 1070.8L2116.0 1070.8L2116.0 1070.8L2112.7 1070.8L2112.7 1070.8L2109.4 1070.8L2109.4 1070.8L2106.1 1070.8L2106.1 1070.8L2102.8 1070.8L2102.8 1070.8L2099.5 1070.8L2099.5 1070.8L2096.2 1070.8L2096.2 1070.8L2092.9 1070.8L2092.9 1069.2L2089.6 1069.2L2089.6 1069.2L2086.3 1069.2L2086.3 1069.2L2083.0 1069.2L2083.0 1069.2L2079.7 1069.2L2079.7 1067.5L2076.4 1067.5L2076.4 1067.5L2073.1 1067.5L2073.1 1065.9L2069.8 1065.9L2069.8 1065.9L2066.5 1065.9L2066.5 1064.2L2063.2 1064.2L2063.2 1064.2L2059.9 1064.2L2059.9 1062.6L2056.6 1062.6L2056.6 1062.6L2053.3 1062.6L2053.3 1061.0L2050.0 1061.0L2050.0 1059.3L2046.7 1059.3L2046.7 1059.3L2043.4 1059.3L2043.4 1057.6L2040.1 1057.6L2040.1 1057.6L2036.8 1057.6L2036.8 1056.0L2033.5 1056.0L2033.5 1054.3L2030.2 1054.3L2030.2 1052.7L2026.9 1052.7L2026.9 1047.8L2023.6 1047.8L2023.6 1046.1L2020.3 1046.1L2020.3 1044.5L2017.0 1044.5L2017.0 1042.8L2013.7 1042.8L2013.7 1041.1L2010.4 1041.1L2010.4 1039.5L2007.1 1039.5L2007.1 1036.2L2003.8 1036.2L2003.8 1034.5L2000.5 1034.5L2000.5 1034.5L1997.2 1034.5L1997.2 1031.2L1993.9 1031.2L1993.9 1032.9L1990.6 1032.9L1990.6 1029.6L1987.3 1029.6L1987.3 1028.0L1984.0 1028.0L1984.0 1024.6L1980.7 1024.6L1980.7 1023.0L1977.4 1023.0L1977.4 1021.3L1974.1 1021.3L1974.1 1018.0L1970.8 1018.0L1970.8 1016.4L1967.5 1016.4L1967.5 1013.1L1964.2 1013.1L1964.2 1009.8L1960.9 1009.8L1960.9 1008.1L1957.6 1008.1L1957.6 1004.8L1954.3 1004.8L1954.3 1001.5L1951.0 1001.5L1951.0 999.9L1947.7 999.9L1947.7 996.6L1944.4 996.6L1944.4 993.3L1941.1 993.3L1941.1 991.6L1937.8 991.6L1937.8 988.3L1934.5 988.3L1934.5 985.0L1931.2 985.0L1931.2 981.8L1927.9 981.8L1927.9 978.4L1924.6 978.4L1924.6 975.1L1921.3 975.1L1921.3 970.2L1918.0 970.2L1918.0 966.9L1914.7 966.9L1914.7 963.6L1911.4 963.6L1911.4 963.6L1908.1 963.6L1908.1 960.3L1904.8 960.3L1904.8 957.0L1901.5 957.0L1901.5 953.7L1898.2 953.7L1898.2 948.8L1894.9 948.8L1894.9 945.4L1891.6 945.4L1891.6 942.1L1888.3 942.1L1888.3 937.2L1885.0 937.2L1885.0 933.9L1881.7 933.9L1881.7 930.6L1878.4 930.6L1878.4 927.3L1875.1 927.3L1875.1 924.0L1871.8 924.0L1871.8 920.7L1868.5 920.7L1868.5 917.4L1865.2 917.4L1865.2 914.1L1861.9 914.1L1861.9 910.8L1858.6 910.8L1858.6 907.5L1855.3 907.5L1855.3 904.2L1852.0 904.2L1852.0 902.5L1848.7 902.5L1848.7 899.2L1845.4 899.2L1845.4 895.9L1842.1 895.9L1842.1 892.6L1838.8 892.6L1838.8 889.3L1835.5 889.3L1835.5 887.7L1832.2 887.7L1832.2 884.4L1828.9 884.4L1828.9 882.8L1825.6 882.8L1825.6 879.4L1822.3 879.4L1822.3 877.8L1819.0 877.8L1819.0 874.5L1815.7 874.5L1815.7 872.8L1812.4 872.8L1812.4 871.2L1809.1 871.2L1809.1 867.9L1805.8 867.9L1805.8 866.2L1802.5 866.2L1802.5 864.6L1799.2 864.6L1799.2 862.9L1795.9 862.9L1795.9 859.6L1792.6 859.6L1792.6 858.0L1789.3 858.0L1789.3 856.3L1786.0 856.3L1786.0 854.7L1782.7 854.7L1782.7 853.0L1779.4 853.0L1779.4 851.4L1776.1 851.4L1776.1 849.8L1772.8 849.8L1772.8 848.1L1769.5 848.1L1769.5 846.4L1766.2 846.4L1766.2 844.8L1762.9 844.8L1762.9 841.5L1759.6 841.5L1759.6 839.8L1756.3 839.8L1756.3 838.2L1753.0 838.2L1753.0 836.5L1749.7 836.5L1749.7 833.2L1746.4 833.2L1746.4 831.6L1743.1 831.6L1743.1 829.9L1739.8 829.9L1739.8 828.3L1736.5 828.3L1736.5 828.3L1733.2 828.3L1733.2 826.6L1729.9 826.6L1729.9 825.0L1726.6 825.0L1726.6 823.3L1723.3 823.3L1723.3 823.3L1720.0 823.3L1720.0 821.7L1716.7 821.7L1716.7 820.0L1713.4 820.0L1713.4 818.4L1710.1 818.4L1710.1 816.8L1706.8 816.8L1706.8 815.1L1703.5 815.1L1703.5 813.4L1700.2 813.4L1700.2 811.8L1696.9 811.8L1696.9 810.1L1693.6 810.1L1693.6 810.1L1690.3 810.1L1690.3 810.1L1687.0 810.1L1687.0 806.8L1683.7 806.8L1683.7 805.2L1680.4 805.2L1680.4 803.5L1677.1 803.5L1677.1 803.5L1673.8 803.5L1673.8 801.9L1670.5 801.9L1670.5 800.2L1667.2 800.2L1667.2 798.6L1663.9 798.6L1663.9 796.9L1660.6 796.9L1660.6 795.3L1657.3 795.3L1657.3 795.3L1654.0 795.3L1654.0 793.6L1650.7 793.6L1650.7 793.6L1647.4 793.6L1647.4 793.6L1644.1 793.6L1644.1 792.0L1640.8 792.0L1640.8 792.0L1637.5 792.0L1637.5 790.3L1634.2 790.3L1634.2 790.3L1630.9 790.3L1630.9 788.7L1627.6 788.7L1627.6 788.7L1624.3 788.7L1624.3 787.0L1621.0 787.0L1621.0 787.0L1617.7 787.0L1617.7 785.4L1614.4 785.4L1614.4 785.4L1611.1 785.4L1611.1 783.8L1607.8 783.8L1607.8 783.8L1604.5 783.8L1604.5 783.8L1601.2 783.8L1601.2 782.1L1597.9 782.1L1597.9 780.4L1594.6 780.4L1594.6 778.8L1591.3 778.8L1591.3 778.8L1588.0 778.8L1588.0 778.8L1584.7 778.8L1584.7 778.8L1581.4 778.8L1581.4 777.1L1578.1 777.1L1578.1 777.1L1574.8 777.1L1574.8 777.1L1571.5 777.1L1571.5 778.8L1568.2 778.8L1568.2 778.8L1564.9 778.8L1564.9 778.8L1561.6 778.8L1561.6 778.8L1558.3 778.8L1558.3 778.8L1555.0 778.8L1555.0 778.8L1551.7 778.8L1551.7 778.8L1548.4 778.8L1548.4 778.8L1545.1 778.8L1545.1 778.8L1541.8 778.8L1541.8 778.8L1538.5 778.8L1538.5 778.8L1535.2 778.8L1535.2 778.8L1531.9 778.8L1531.9 778.8L1528.6 778.8L1528.6 778.8L1525.3 778.8L1525.3 780.4L1522.0 780.4L1522.0 780.4L1518.7 780.4L1518.7 780.4L1515.4 780.4L1515.4 782.1L1512.1 782.1L1512.1 782.1L1508.8 782.1L1508.8 782.1L1505.5 782.1L1505.5 783.8L1502.2 783.8L1502.2 783.8L1498.9 783.8L1498.9 783.8L1495.6 783.8L1495.6 785.4L1492.3 785.4L1492.3 785.4L1489.0 785.4L1489.0 787.0L1485.7 787.0L1485.7 787.0L1482.4 787.0L1482.4 788.7L1479.1 788.7L1479.1 788.7L1475.8 788.7L1475.8 790.3L1472.5 790.3L1472.5 790.3L1469.2 790.3L1469.2 792.0L1465.9 792.0L1465.9 792.0L1462.6 792.0L1462.6 793.6L1459.3 793.6L1459.3 795.3L1456.0 795.3L1456.0 795.3L1452.7 795.3L1452.7 795.3L1449.4 795.3L1449.4 796.9L1446.1 796.9L1446.1 796.9L1442.8 796.9L1442.8 798.6L1439.5 798.6L1439.5 798.6L1436.2 798.6L1436.2 800.2L1432.9 800.2L1432.9 803.5L1429.6 803.5L1429.6 805.2L1426.3 805.2L1426.3 806.8L1423.0 806.8L1423.0 810.1L1419.7 810.1L1419.7 811.8L1416.4 811.8L1416.4 811.8L1413.1 811.8L1413.1 813.4L1409.8 813.4L1409.8 815.1L1406.5 815.1L1406.5 816.8L1403.2 816.8L1403.2 818.4L1399.9 818.4L1399.9 818.4L1396.6 818.4L1396.6 820.0L1393.3 820.0L1393.3 821.7L1390.0 821.7L1390.0 823.3L1386.7 823.3L1386.7 825.0L1383.4 825.0L1383.4 826.6L1380.1 826.6L1380.1 829.9L1376.8 829.9L1376.8 831.6L1373.5 831.6L1373.5 833.2L1370.2 833.2L1370.2 834.9L1366.9 834.9L1366.9 836.5L1363.6 836.5L1363.6 838.2L1360.3 838.2L1360.3 839.8L1357.0 839.8L1357.0 841.5L1353.7 841.5L1353.7 844.8L1350.4 844.8L1350.4 846.4L1347.1 846.4L1347.1 848.1L1343.8 848.1L1343.8 849.8L1340.5 849.8L1340.5 851.4L1337.2 851.4L1337.2 854.7L1333.9 854.7L1333.9 856.3L1330.6 856.3L1330.6 858.0L1327.3 858.0L1327.3 861.3L1324.0 861.3L1324.0 862.9L1320.7 862.9L1320.7 864.6L1317.4 864.6L1317.4 867.9L1314.1 867.9L1314.1 869.5L1310.8 869.5L1310.8 872.8L1307.5 872.8L1307.5 874.5L1304.2 874.5L1304.2 877.8L1300.9 877.8L1300.9 879.4L1297.6 879.4L1297.6 882.8L1294.3 882.8L1294.3 884.4L1291.0 884.4L1291.0 887.7L1287.7 887.7L1287.7 891.0L1284.4 891.0L1284.4 892.6L1281.1 892.6L1281.1 895.9L1277.8 895.9L1277.8 899.2L1274.5 899.2L1274.5 900.9L1271.2 900.9L1271.2 904.2L1267.9 904.2L1267.9 907.5L1264.6 907.5L1264.6 910.8L1261.3 910.8L1261.3 914.1L1258.0 914.1L1258.0 917.4L1254.7 917.4L1254.7 920.7L1251.4 920.7L1251.4 924.0L1248.1 924.0L1248.1 927.3L1244.8 927.3L1244.8 930.6L1241.5 930.6L1241.5 933.9L1238.2 933.9L1238.2 937.2L1234.9 937.2L1234.9 940.5L1231.6 940.5L1231.6 943.8L1228.3 943.8L1228.3 947.1L1225.0 947.1L1225.0 950.4L1221.7 950.4L1221.7 953.7L1218.4 953.7L1218.4 955.3L1215.1 955.3L1215.1 958.6L1211.8 958.6L1211.8 961.9L1208.5 961.9L1208.5 965.2L1205.2 965.2L1205.2 968.5L1201.9 968.5L1201.9 970.2L1198.6 970.2L1198.6 973.5L1195.3 973.5L1195.3 976.8L1192.0 976.8L1192.0 980.1L1188.7 980.1L1188.7 983.4L1185.4 983.4L1185.4 985.0L1182.1 985.0L1182.1 988.3L1178.8 988.3L1178.8 991.6L1175.5 991.6L1175.5 993.3L1172.2 993.3L1172.2 996.6L1168.9 996.6L1168.9 999.9L1165.6 999.9L1165.6 1001.5L1162.3 1001.5L1162.3 1004.8L1159.0 1004.8L1159.0 1006.5L1155.7 1006.5L1155.7 1008.1L1152.4 1008.1L1152.4 1011.4L1149.1 1011.4L1149.1 1013.1L1145.8 1013.1L1145.8 1016.4L1142.5 1016.4L1142.5 1018.0L1139.2 1018.0L1139.2 1019.7L1135.9 1019.7L1135.9 1021.3L1132.6 1021.3L1132.6 1023.0L1129.3 1023.0L1129.3 1028.0L1126.0 1028.0L1126.0 1031.2L1122.7 1031.2L1122.7 1032.9L1119.4 1032.9L1119.4 1034.5L1116.1 1034.5L1116.1 1036.2L1112.8 1036.2L1112.8 1037.8L1109.5 1037.8L1109.5 1041.1L1106.2 1041.1L1106.2 1042.8L1102.9 1042.8L1102.9 1044.5L1099.6 1044.5L1099.6 1047.8L1096.3 1047.8L1096.3 1049.4L1093.0 1049.4L1093.0 1051.0L1089.7 1051.0L1089.7 1052.7L1086.4 1052.7L1086.4 1054.3L1083.1 1054.3L1083.1 1056.0L1079.8 1056.0L1079.8 1057.6L1076.5 1057.6L1076.5 1059.3L1073.2 1059.3L1073.2 1057.6L1069.9 1057.6L1069.9 1059.3L1066.6 1059.3L1066.6 1059.3L1063.3 1059.3L1063.3 1061.0L1060.0 1061.0L1060.0 1062.6L1056.7 1062.6L1056.7 1062.6L1053.4 1062.6L1053.4 1065.9L1050.1 1065.9L1050.1 1067.5L1046.8 1067.5L1046.8 1067.5L1043.5 1067.5L1043.5 1069.2L1040.2 1069.2L1040.2 1069.2L1036.9 1069.2L1036.9 1070.8L1033.6 1070.8L1033.6 1070.8L1030.3 1070.8L1030.3 1070.8L1027.0 1070.8L1027.0 1069.2L1023.7 1069.2L1023.7 1069.2L1020.4 1069.2L1020.4 1070.8L1017.1 1070.8L1017.1 1070.8L1013.8 1070.8L1013.8 1070.8L1010.5 1070.8L1010.5 1070.8L1007.2 1070.8L1007.2 1069.2L1003.9 1069.2L1003.9 1069.2L1000.6 1069.2L1000.6 1070.8L997.3 1070.8L997.3 1070.8L994.0 1070.8L994.0 1070.8L990.7 1070.8L990.7 1069.2L987.4 1069.2L987.4 1069.2L984.1 1069.2L984.1 1069.2L980.8 1069.2L980.8 1069.2L977.5 1069.2L977.5 1067.5L974.2 1067.5L974.2 1067.5L970.9 1067.5L970.9 1067.5L967.6 1067.5L967.6 1065.9L964.3 1065.9L964.3 1065.9L961.0 1065.9L961.0 1064.2L957.7 1064.2L957.7 1062.6L954.4 1062.6L954.4 1062.6L951.1 1062.6L951.1 1061.0L947.8 1061.0L947.8 1061.0L944.5 1061.0L944.5 1059.3L941.2 1059.3L941.2 1057.6L937.9 1057.6L937.9 1056.0L934.6 1056.0L934.6 1054.3L931.3 1054.3L931.3 1054.3L928.0 1054.3L928.0 1052.7L924.7 1052.7L924.7 1051.0L921.4 1051.0L921.4 1049.4L918.1 1049.4L918.1 1047.8L914.8 1047.8L914.8 1046.1L911.5 1046.1L911.5 1044.5L908.2 1044.5L908.2 1041.1L904.9 1041.1L904.9 1039.5L901.6 1039.5L901.6 1037.8L898.3 1037.8L898.3 1036.2L895.0 1036.2L895.0 1034.5L891.7 1034.5L891.7 1031.2L888.4 1031.2L888.4 1029.6L885.1 1029.6L885.1 1028.0L881.8 1028.0L881.8 1026.3L878.5 1026.3L878.5 1024.6L875.2 1024.6L875.2 1021.3L871.9 1021.3L871.9 1016.4L868.6 1016.4L868.6 1014.8L865.3 1014.8L865.3 1011.4L862.0 1011.4L862.0 1008.1L858.7 1008.1L858.7 1006.5L855.4 1006.5L855.4 1003.2L852.1 1003.2L852.1 1001.5L848.8 1001.5L848.8 998.2L845.5 998.2L845.5 996.6L842.2 996.6L842.2 993.3L838.9 993.3L838.9 990.0L835.6 990.0L835.6 988.3L832.3 988.3L832.3 985.0L829.0 985.0L829.0 981.8L825.7 981.8L825.7 978.4L822.4 978.4L822.4 975.1L819.1 975.1L819.1 971.8L815.8 971.8L815.8 968.5L812.5 968.5L812.5 966.9L809.2 966.9L809.2 963.6L805.9 963.6L805.9 960.3L802.6 960.3L802.6 957.0L799.3 957.0L799.3 953.7L796.0 953.7L796.0 950.4L792.7 950.4L792.7 947.1L789.4 947.1L789.4 943.8L786.1 943.8L786.1 940.5L782.8 940.5L782.8 935.5L779.5 935.5L779.5 932.2L776.2 932.2L776.2 928.9L772.9 928.9L772.9 925.6L769.6 925.6L769.6 922.3L766.3 922.3L766.3 919.0L763.0 919.0L763.0 915.8L759.7 915.8L759.7 912.4L756.4 912.4L756.4 909.1L753.1 909.1L753.1 905.8L749.8 905.8L749.8 902.5L746.5 902.5L746.5 899.2L743.2 899.2L743.2 895.9L739.9 895.9L739.9 894.3L736.6 894.3L736.6 891.0L733.3 891.0L733.3 887.7L730.0 887.7L730.0 886.0L726.7 886.0L726.7 882.8L723.4 882.8L723.4 879.4L720.1 879.4L720.1 877.8L716.8 877.8L716.8 876.1L713.5 876.1L713.5 874.5L710.2 874.5L710.2 871.2L706.9 871.2L706.9 869.5L703.6 869.5L703.6 867.9L700.3 867.9L700.3 866.2L697.0 866.2L697.0 864.6L693.7 864.6L693.7 862.9L690.4 862.9L690.4 861.3L687.1 861.3L687.1 859.6L683.8 859.6L683.8 858.0L680.5 858.0L680.5 856.3L677.2 856.3L677.2 854.7L673.9 854.7L673.9 853.0L670.6 853.0L670.6 849.8L667.3 849.8L667.3 848.1L664.0 848.1L664.0 844.8L660.7 844.8L660.7 843.1L657.4 843.1L657.4 841.5L654.1 841.5L654.1 839.8L650.8 839.8L650.8 838.2L647.5 838.2L647.5 836.5L644.2 836.5L644.2 834.9L640.9 834.9L640.9 833.2L637.6 833.2L637.6 831.6L634.3 831.6L634.3 829.9L631.0 829.9L631.0 828.3L627.7 828.3L627.7 826.6L624.4 826.6L624.4 825.0L621.1 825.0L621.1 823.3L617.8 823.3L617.8 821.7L614.5 821.7L614.5 820.0L611.2 820.0L611.2 818.4L607.9 818.4L607.9 816.8L604.6 816.8L604.6 815.1L601.3 815.1L601.3 813.4L598.0 813.4L598.0 813.4L594.7 813.4L594.7 811.8L591.4 811.8L591.4 810.1L588.1 810.1L588.1 808.5L584.8 808.5L584.8 806.8L581.5 806.8L581.5 806.8L578.2 806.8L578.2 805.2L574.9 805.2L574.9 803.5L571.6 803.5L571.6 801.9L568.3 801.9L568.3 801.9L565.0 801.9L565.0 800.2L561.7 800.2L561.7 798.6L558.4 798.6L558.4 796.9L555.1 796.9L555.1 796.9L551.8 796.9L551.8 795.3L548.5 795.3L548.5 795.3L545.2 795.3L545.2 793.6L541.9 793.6L541.9 792.0L538.6 792.0L538.6 792.0L535.3 792.0L535.3 790.3L532.0 790.3L532.0 787.0L528.7 787.0L528.7 787.0L525.4 787.0L525.4 785.4L522.1 785.4L522.1 785.4L518.8 785.4L518.8 788.7L515.5 788.7L515.5 788.7L512.2 788.7L512.2 787.0L508.9 787.0L508.9 787.0L505.6 787.0L505.6 787.0L502.3 787.0L502.3 785.4L499.0 785.4L499.0 785.4L495.7 785.4L495.7 785.4L492.4 785.4L492.4 783.8L489.1 783.8L489.1 783.8L485.8 783.8L485.8 783.8L482.5 783.8L482.5 780.4L479.2 780.4L479.2 780.4L475.9 780.4L475.9 780.4L472.6 780.4L472.6 778.8L469.3 778.8L469.3 778.8L466.0 778.8L466.0 778.8L462.7 778.8L462.7 778.8L459.4 778.8L459.4 777.1L456.1 777.1L456.1 777.1L452.8 777.1L452.8 777.1L449.5 777.1L449.5 777.1L446.2 777.1L446.2 778.8L442.9 778.8L442.9 778.8L439.6 778.8L439.6 778.8L436.3 778.8L436.3 778.8L433.0 778.8L433.0 778.8L429.7 778.8L429.7 780.4L426.4 780.4L426.4 780.4L423.1 780.4L423.1 780.4L419.8 780.4L419.8 782.1L416.5 782.1L416.5 782.1L413.2 782.1L413.2 782.1L409.9 782.1L409.9 783.8L406.6 783.8L406.6 783.8L403.3 783.8L403.3 780.4L400.0 780.4L400.0 780.4L396.7 780.4L396.7 782.1L393.4 782.1L393.4 782.1L390.1 782.1L390.1 783.8L386.8 783.8L386.8 783.8L383.5 783.8L383.5 783.8L380.2 783.8L380.2 787.0L376.9 787.0L376.9 788.7L373.6 788.7L373.6 788.7L370.3 788.7L370.3 790.3L367.0 790.3L367.0 792.0L363.7 792.0L363.7 792.0L360.4 792.0L360.4 793.6L357.1 793.6L357.1 793.6L353.8 793.6L353.8 795.3L350.5 795.3L350.5 796.9L347.2 796.9L347.2 796.9L343.9 796.9L343.9 798.6L340.6 798.6L340.6 800.2L337.3 800.2L337.3 801.9L334.0 801.9L334.0 801.9L330.7 801.9L330.7 801.9L327.4 801.9L327.4 803.5L324.1 803.5L324.1 805.2L320.8 805.2L320.8 806.8L317.5 806.8L317.5 808.5L314.2 808.5L314.2 810.1L310.9 810.1L310.9 811.8L307.6 811.8L307.6 813.4L304.3 813.4L304.3 815.1L301.0 815.1L301.0 816.8L297.7 816.8L297.7 818.4L294.4 818.4L294.4 820.0L291.1 820.0L291.1 821.7L287.8 821.7L287.8 823.3L284.5 823.3L284.5 825.0L281.2 825.0L281.2 826.6L277.9 826.6L277.9 828.3L274.6 828.3L274.6 829.9L271.3 829.9L271.3 831.6L268.0 831.6L268.0 834.9L264.7 834.9L264.7 836.5L261.4 836.5L261.4 838.2L258.1 838.2L258.1 839.8L254.8 839.8L254.8 841.5L251.5 841.5L251.5 843.1L248.2 843.1L248.2 844.8L244.9 844.8L244.9 848.1L241.6 848.1L241.6 849.8L238.3 849.8L238.3 849.8L235.0 849.8L235.0 853.0L231.7 853.0L231.7 854.7L228.4 854.7L228.4 856.3L225.1 856.3L225.1 858.0L221.8 858.0L221.8 861.3L218.5 861.3L218.5 864.6L215.2 864.6L215.2 866.2L211.9 866.2L211.9 867.9L208.6 867.9L208.6 869.5L205.3 869.5L205.3 872.8L202.0 872.8L202.0 874.5L198.7 874.5L198.7 877.8L195.4 877.8L195.4 879.4L192.1 879.4L192.1 882.8L188.8 882.8L188.8 884.4L185.5 884.4L185.5 887.7L182.2 887.7L182.2 889.3L178.9 889.3L178.9 892.6L175.6 892.6Z" fill="#0000ff"/>
<path clip-path="url(#c2)" d="M157.7 1459.3L161.0 1459.9L164.2 1460.5L167.5 1461.0L170.8 1461.6L174.0 1462.2L177.3 1462.7L180.5 1463.3L183.8 1463.8L187.0 1464.3L190.3 1464.8L193.5 1465.3L196.8 1465.8L200.0 1466.3L203.3 1466.7L206.5 1467.2L209.8 1467.6L213.0 1468.0L216.2 1468.3L219.5 1468.7L222.7 1469.0L226.0 1469.3L229.2 1469.6L232.4 1469.9L235.6 1470.2L238.9 1470.4L242.1 1470.6L245.3 1470.7L248.5 1470.9L251.7 1471.0L255.0 1471.1L258.2 1471.2L261.4 1471.2L264.6 1471.3L267.8 1471.3L271.0 1471.2L274.2 1471.2L277.4 1471.1L280.6 1471.0L283.8 1470.8L287.0 1470.7L290.2 1470.5L293.3 1470.3L296.5 1470.1L299.7 1469.8L302.9 1469.5L306.1 1469.2L309.3 1468.9L312.4 1468.6L315.6 1468.2L318.8 1467.8L321.9 1467.4L325.1 1467.0L328.3 1466.5L331.4 1466.1L334.6 1465.6L337.8 1465.1L340.9 1464.6L344.1 1464.1L347.2 1463.6L350.4 1463.0L353.6 1462.5L356.7 1461.9L359.9 1461.4L363.0 1460.8L366.2 1460.2L369.3 1459.6L372.5 1459.0L375.6 1458.4L378.8 1457.8L381.9 1457.2L385.1 1456.6L388.2 1456.0L391.3 1455.4L394.5 1454.9L397.6 1454.3L400.8 1453.7L403.9 1453.1L407.1 1452.5L410.2 1451.9L413.4 1451.4L416.5 1450.8L419.7 1450.2L422.8 1449.7L426.0 1449.2L429.1 1448.6L432.3 1448.1L435.4 1447.6L438.6 1447.1L441.7 1446.6L444.9 1446.2L448.0 1445.7L451.2 1445.3L454.3 1444.8L457.5 1444.4L460.6 1444.0L463.8 1443.6L467.0 1443.3L470.1 1442.9L473.3 1442.5L476.4 1442.2L479.6 1441.9L482.8 1441.6L485.9 1441.3L489.1 1441.1L492.3 1440.8L495.5 1440.6L498.6 1440.4L501.8 1440.2L505.0 1440.0L508.2 1439.8L511.4 1439.7L514.6 1439.5L517.8 1439.4L521.0 1439.3L524.1 1439.2L527.3 1439.2L530.5 1439.1L533.7 1439.1L536.9 1439.1L540.2 1439.1L543.4 1439.1L546.6 1439.1L549.8 1439.2L553.0 1439.2L556.2 1439.3L559.4 1439.4L562.7 1439.5L565.9 1439.7L569.1 1439.8L572.3 1440.0L575.6 1440.2L578.8 1440.4L582.0 1440.6L585.3 1440.8L588.5 1441.1L591.7 1441.3L595.0 1441.6L598.2 1441.9L601.5 1442.2L604.7 1442.6L607.9 1442.9L611.2 1443.3L614.4 1443.6L617.7 1444.0L621.0 1444.4L624.2 1444.8L627.5 1445.3L630.7 1445.7L634.0 1446.2L637.2 1446.7L640.5 1447.1L643.8 1447.6L647.0 1448.1L650.3 1448.6L653.5 1449.2L656.8 1449.7L660.1 1450.3L663.3 1450.8L666.6 1451.4L669.9 1451.9L673.1 1452.5L676.4 1453.1L679.7 1453.7L682.9 1454.3L686.2 1454.9L689.5 1455.5L692.7 1456.1L696.0 1456.7L699.2 1457.3L702.5 1457.9L705.8 1458.5L709.0 1459.1L712.3 1459.6L715.6 1460.2L718.8 1460.8L722.1 1461.4L725.3 1462.0L728.6 1462.5L731.9 1463.1L735.1 1463.6L738.4 1464.1L741.6 1464.6L744.9 1465.1L748.1 1465.6L751.4 1466.1L754.6 1466.6L757.8 1467.0L761.1 1467.4L764.3 1467.8L767.6 1468.2L770.8 1468.6L774.0 1468.9L777.3 1469.2L780.5 1469.5L783.7 1469.8L787.0 1470.1L790.2 1470.3L793.4 1470.5L796.6 1470.7L799.9 1470.8L803.1 1471.0L806.3 1471.1L809.5 1471.2L812.7 1471.2L815.9 1471.3L819.1 1471.3L822.3 1471.2L825.5 1471.2L828.7 1471.1L831.9 1471.0L835.1 1470.9L838.3 1470.7L841.5 1470.6L844.7 1470.4L847.9 1470.1L851.1 1469.9L854.2 1469.6L857.4 1469.3L860.6 1469.0L863.8 1468.7L866.9 1468.3L870.1 1468.0L873.3 1467.6L876.5 1467.1L879.6 1466.7L882.8 1466.3L886.0 1465.8L889.1 1465.3L892.3 1464.8L895.4 1464.3L898.6 1463.8L901.8 1463.2L904.9 1462.7L908.1 1462.1L911.2 1461.6L914.4 1461.0L917.5 1460.4L920.7 1459.9L923.8 1459.3L927.0 1458.7L930.1 1458.1L933.3 1457.5L936.4 1456.9L939.6 1456.3L942.7 1455.7L945.9 1455.1L949.0 1454.5L952.1 1453.9L955.3 1453.3L958.4 1452.7L961.6 1452.1L964.7 1451.6L967.9 1451.0L971.0 1450.5L974.2 1449.9L977.3 1449.4L980.5 1448.8L983.6 1448.3L986.8 1447.8L989.9 1447.3L993.1 1446.8L996.2 1446.3L999.4 1445.9L1002.5 1445.4L1005.7 1445.0L1008.8 1444.6L1012.0 1444.2L1015.1 1443.8L1018.3 1443.4L1021.5 1443.0L1024.6 1442.7L1027.8 1442.3L1031.0 1442.0L1034.1 1441.7L1037.3 1441.4L1040.5 1441.2L1043.6 1440.9L1046.8 1440.7L1050.0 1440.4L1053.2 1440.2L1056.4 1440.1L1059.5 1439.9L1062.7 1439.7L1065.9 1439.6L1069.1 1439.5L1072.3 1439.3L1075.5 1439.3L1078.7 1439.2L1081.9 1439.1L1085.1 1439.1L1088.3 1439.1L1091.5 1439.1L1094.7 1439.1L1097.9 1439.1L1101.1 1439.1L1104.3 1439.2L1107.5 1439.3L1110.8 1439.4L1114.0 1439.5L1117.2 1439.6L1120.4 1439.8L1123.7 1439.9L1126.9 1440.1L1130.1 1440.3L1133.3 1440.5L1136.6 1440.7L1139.8 1441.0L1143.0 1441.2L1146.3 1441.5L1149.5 1441.8L1152.8 1442.1L1156.0 1442.4L1159.3 1442.8L1162.5 1443.1L1165.8 1443.5L1169.0 1443.9L1172.3 1444.3L1175.5 1444.7L1178.8 1445.1L1182.0 1445.6L1185.3 1446.0L1188.5 1446.5L1191.8 1446.9L1195.1 1447.4L1198.3 1447.9L1201.6 1448.4L1204.9 1449.0L1208.1 1449.5L1211.4 1450.0L1214.6 1450.6L1217.9 1451.2L1221.2 1451.7L1224.4 1452.3L1227.7 1452.9L1231.0 1453.5L1234.2 1454.0L1237.5 1454.6L1240.8 1455.2L1244.0 1455.8L1247.3 1456.4L1250.6 1457.0L1253.8 1457.6L1257.1 1458.2L1260.4 1458.8L1263.6 1459.4L1266.9 1460.0L1270.1 1460.6L1273.4 1461.2L1276.7 1461.7L1279.9 1462.3L1283.2 1462.8L1286.4 1463.4L1289.7 1463.9L1292.9 1464.4L1296.2 1464.9L1299.4 1465.4L1302.7 1465.9L1305.9 1466.4L1309.2 1466.8L1312.4 1467.3L1315.7 1467.7L1318.9 1468.1L1322.1 1468.4L1325.4 1468.8L1328.6 1469.1L1331.8 1469.4L1335.1 1469.7L1338.3 1470.0L1341.5 1470.2L1344.7 1470.4L1348.0 1470.6L1351.2 1470.8L1354.4 1470.9L1357.6 1471.0L1360.8 1471.1L1364.0 1471.2L1367.2 1471.2L1370.5 1471.3L1373.7 1471.2L1376.9 1471.2L1380.1 1471.1L1383.3 1471.1L1386.5 1470.9L1389.6 1470.8L1392.8 1470.6L1396.0 1470.5L1399.2 1470.2L1402.4 1470.0L1405.6 1469.7L1408.8 1469.5L1411.9 1469.1L1415.1 1468.8L1418.3 1468.5L1421.5 1468.1L1424.6 1467.7L1427.8 1467.3L1431.0 1466.9L1434.1 1466.4L1437.3 1466.0L1440.5 1465.5L1443.6 1465.0L1446.8 1464.5L1450.0 1464.0L1453.1 1463.5L1456.3 1462.9L1459.4 1462.4L1462.6 1461.8L1465.7 1461.2L1468.9 1460.7L1472.0 1460.1L1475.2 1459.5L1478.3 1458.9L1481.5 1458.3L1484.6 1457.7L1487.8 1457.1L1490.9 1456.5L1494.1 1455.9L1497.2 1455.3L1500.4 1454.7L1503.5 1454.1L1506.6 1453.5L1509.8 1452.9L1512.9 1452.4L1516.1 1451.8L1519.2 1451.2L1522.4 1450.7L1525.5 1450.1L1528.7 1449.6L1531.8 1449.0L1535.0 1448.5L1538.1 1448.0L1541.3 1447.5L1544.4 1447.0L1547.6 1446.5L1550.7 1446.1L1553.9 1445.6L1557.0 1445.2L1560.2 1444.7L1563.3 1444.3L1566.5 1443.9L1569.7 1443.5L1572.8 1443.2L1576.0 1442.8L1579.1 1442.5L1582.3 1442.1L1585.5 1441.8L1588.6 1441.5L1591.8 1441.3L1595.0 1441.0L1598.2 1440.8L1601.3 1440.5L1604.5 1440.3L1607.7 1440.1L1610.9 1439.9L1614.1 1439.8L1617.2 1439.6L1620.4 1439.5L1623.6 1439.4L1626.8 1439.3L1630.0 1439.2L1633.2 1439.1L1636.4 1439.1L1639.6 1439.1L1642.8 1439.1L1646.0 1439.1L1649.2 1439.1L1652.4 1439.1L1655.7 1439.2L1658.9 1439.2L1662.1 1439.3L1665.3 1439.4L1668.5 1439.6L1671.8 1439.7L1675.0 1439.9L1678.2 1440.0L1681.4 1440.2L1684.7 1440.4L1687.9 1440.6L1691.1 1440.9L1694.4 1441.1L1697.6 1441.4L1700.8 1441.7L1704.1 1442.0L1707.3 1442.3L1710.6 1442.6L1713.8 1443.0L1717.1 1443.3L1720.3 1443.7L1723.6 1444.1L1726.8 1444.5L1730.1 1444.9L1733.3 1445.4L1736.6 1445.8L1739.9 1446.3L1743.1 1446.8L1746.4 1447.2L1749.6 1447.7L1752.9 1448.3L1756.2 1448.8L1759.4 1449.3L1762.7 1449.8L1766.0 1450.4L1769.2 1450.9L1772.5 1451.5L1775.8 1452.1L1779.0 1452.7L1782.3 1453.2L1785.5 1453.8L1788.8 1454.4L1792.1 1455.0L1795.3 1455.6L1798.6 1456.2L1801.9 1456.8L1805.1 1457.4L1808.4 1458.0L1811.7 1458.6L1814.9 1459.2L1818.2 1459.8L1821.4 1460.4L1824.7 1460.9L1828.0 1461.5L1831.2 1462.1L1834.5 1462.6L1837.7 1463.2L1841.0 1463.7L1844.2 1464.2L1847.5 1464.8L1850.7 1465.3L1854.0 1465.7L1857.2 1466.2L1860.5 1466.7L1863.7 1467.1L1867.0 1467.5L1870.2 1467.9L1873.4 1468.3L1876.7 1468.6L1879.9 1469.0L1883.2 1469.3L1886.4 1469.6L1889.6 1469.9L1892.8 1470.1L1896.1 1470.3L1899.3 1470.5L1902.5 1470.7L1905.7 1470.9L1908.9 1471.0L1912.2 1471.1L1915.4 1471.2L1918.6 1471.2L1921.8 1471.3L1925.0 1471.3L1928.2 1471.2L1931.4 1471.2L1934.6 1471.1L1937.8 1471.0L1941.0 1470.9L1944.2 1470.7L1947.4 1470.5L1950.6 1470.3L1953.7 1470.1L1956.9 1469.8L1960.1 1469.6L1963.3 1469.3L1966.5 1468.9L1969.6 1468.6L1972.8 1468.2L1976.0 1467.9L1979.2 1467.5L1982.3 1467.0L1985.5 1466.6L1988.7 1466.2L1991.8 1465.7L1995.0 1465.2L1998.1 1464.7L2001.3 1464.2L2004.5 1463.7L2007.6 1463.1L2010.8 1462.6L2013.9 1462.0L2017.1 1461.5L2020.2 1460.9L2023.4 1460.3L2026.5 1459.7L2029.7 1459.1L2032.8 1458.5L2036.0 1457.9L2039.1 1457.3L2042.3 1456.7L2045.4 1456.1L2048.6 1455.5L2051.7 1454.9L2054.9 1454.3L2058.0 1453.8L2061.1 1453.2L2064.3 1452.6L2067.4 1452.0L2070.6 1451.4L2073.7 1450.9L2076.9 1450.3L2080.0 1449.8L2083.2 1449.2L2086.3 1448.7L2089.5 1448.2L2092.6 1447.7L2095.8 1447.2L2098.9 1446.7L2102.1 1446.2L2105.2 1445.8L2108.4 1445.3L2111.5 1444.9L2114.7 1444.5L2117.8 1444.1L2121.0 1443.7L2124.2 1443.3L2127.3 1442.9L2130.5 1442.6L2133.7 1442.3L2136.8 1442.0L2140.0 1441.7L2143.2 1441.4L2146.3 1441.1L2149.5 1440.9L2152.7 1440.6L2155.9 1440.4L2159.0 1440.2L2162.2 1440.0L2165.4 1439.8L2168.6 1439.7L2171.8 1439.5L2175.0 1439.4L2178.2 1439.3L2181.4 1439.2L2184.6 1439.2L2187.7 1439.1L2191.0 1439.1L2194.2 1439.1L2197.4 1439.1L2200.6 1439.1L2203.8 1439.1L2207.0 1439.2L2210.2 1439.2L2213.4 1439.3L2216.6 1439.4L2219.9 1439.5L2223.1 1439.6L2226.3 1439.8L2229.5 1440.0L2232.8 1440.1L2236.0 1440.3L2239.2 1440.6L2242.5 1440.8L2245.7 1441.0L2248.9 1441.3L2252.2 1441.6L2255.4 1441.9L2258.7 1442.2L2261.9 1442.5L2265.1 1442.9L2268.4 1443.2L2271.6 1443.6L2274.9 1444.0L2278.1 1444.4L2281.4 1444.8L2284.7 1445.2L2287.9 1445.7L2291.2 1446.1L2294.4 1446.6L2297.7 1447.1L2301.0 1447.6L2304.2 1448.1L2307.5 1448.6L2310.7 1449.1L2314.0 1449.6L2317.3 1450.2L2320.5 1450.7L2323.8 1451.3L2327.1 1451.9L2330.3 1452.4L2333.6 1453.0L2336.9 1453.6L2340.1 1454.2L2343.4 1454.8L2346.7 1455.4L2349.9 1456.0L2353.2 1456.6L2356.4 1457.2L2359.7 1457.8L2363.0 1458.4L2366.2 1459.0L2369.5 1459.6L2372.8 1460.1L2376.0 1460.7L2379.3 1461.3L2382.5 1461.9L2385.8 1462.4L2389.1 1463.0L2392.3 1463.5L2395.6 1464.0L2398.8 1464.6L2402.1 1465.1" fill="none" stroke="#aa0000" stroke-width="15.0" stroke-linejoin="round"/>
<path clip-path="url(#c3)" d="M157.9 2182.2L161.1 2185.7L164.4 2189.2L167.7 2192.6L170.9 2196.0L174.2 2199.3L177.4 2202.5L180.7 2205.7L183.9 2208.7L187.2 2211.7L190.4 2214.6L193.7 2217.4L196.9 2220.0L200.2 2222.6L203.4 2225.1L206.6 2227.4L209.9 2229.6L213.1 2231.7L216.3 2233.6L219.6 2235.4L222.8 2237.1L226.0 2238.6L229.2 2240.0L232.5 2241.2L235.7 2242.3L238.9 2243.2L242.1 2244.0L245.3 2244.6L248.5 2245.1L251.8 2245.4L255.0 2245.5L258.2 2245.5L261.4 2245.3L264.6 2244.9L267.8 2244.4L271.0 2243.8L274.2 2242.9L277.4 2242.0L280.5 2240.8L283.7 2239.5L286.9 2238.1L290.1 2236.5L293.3 2234.8L296.5 2233.0L299.6 2231.0L302.8 2228.9L306.0 2226.6L309.2 2224.2L312.3 2221.7L315.5 2219.1L318.7 2216.4L321.8 2213.6L325.0 2210.7L328.2 2207.7L331.3 2204.6L334.5 2201.4L337.6 2198.2L340.8 2194.8L343.9 2191.5L347.1 2188.0L350.3 2184.5L353.4 2181.0L356.6 2177.4L359.7 2173.8L362.9 2170.1L366.0 2166.4L369.1 2162.8L372.3 2159.1L375.4 2155.4L378.6 2151.7L381.7 2148.0L384.9 2144.3L388.0 2140.6L391.2 2136.9L394.3 2133.3L397.5 2129.7L400.6 2126.2L403.8 2122.7L406.9 2119.2L410.0 2115.8L413.2 2112.4L416.3 2109.1L419.5 2105.8L422.6 2102.6L425.8 2099.5L428.9 2096.4L432.1 2093.5L435.2 2090.5L438.4 2087.7L441.5 2085.0L444.7 2082.3L447.9 2079.7L451.0 2077.2L454.2 2074.8L457.3 2072.5L460.5 2070.3L463.7 2068.2L466.8 2066.1L470.0 2064.2L473.2 2062.3L476.3 2060.6L479.5 2059.0L482.7 2057.4L485.9 2056.0L489.0 2054.6L492.2 2053.4L495.4 2052.2L498.6 2051.2L501.8 2050.3L505.0 2049.4L508.1 2048.7L511.3 2048.1L514.5 2047.6L517.7 2047.1L520.9 2046.8L524.1 2046.6L527.3 2046.5L530.5 2046.5L533.7 2046.6L537.0 2046.8L540.2 2047.1L543.4 2047.5L546.6 2048.1L549.8 2048.7L553.0 2049.4L556.3 2050.2L559.5 2051.2L562.7 2052.2L565.9 2053.3L569.2 2054.6L572.4 2055.9L575.6 2057.3L578.9 2058.9L582.1 2060.5L585.4 2062.3L588.6 2064.1L591.8 2066.0L595.1 2068.1L598.3 2070.2L601.6 2072.4L604.8 2074.7L608.1 2077.1L611.3 2079.6L614.6 2082.2L617.8 2084.9L621.1 2087.6L624.4 2090.4L627.6 2093.3L630.9 2096.3L634.1 2099.4L637.4 2102.5L640.7 2105.7L643.9 2108.9L647.2 2112.2L650.5 2115.6L653.7 2119.0L657.0 2122.5L660.2 2126.0L663.5 2129.6L666.8 2133.2L670.0 2136.8L673.3 2140.4L676.6 2144.1L679.8 2147.8L683.1 2151.5L686.4 2155.2L689.6 2158.9L692.9 2162.6L696.2 2166.3L699.4 2170.0L702.7 2173.6L705.9 2177.2L709.2 2180.8L712.5 2184.4L715.7 2187.9L719.0 2191.3L722.2 2194.7L725.5 2198.0L728.7 2201.3L732.0 2204.5L735.2 2207.6L738.5 2210.6L741.7 2213.5L745.0 2216.3L748.2 2219.0L751.5 2221.6L754.7 2224.1L758.0 2226.5L761.2 2228.8L764.4 2230.9L767.7 2232.9L770.9 2234.8L774.1 2236.5L777.3 2238.1L780.6 2239.5L783.8 2240.8L787.0 2241.9L790.2 2242.9L793.5 2243.7L796.7 2244.4L799.9 2244.9L803.1 2245.3L806.3 2245.5L809.5 2245.5L812.7 2245.4L815.9 2245.1L819.1 2244.6L822.3 2244.0L825.5 2243.3L828.7 2242.4L831.9 2241.3L835.1 2240.1L838.3 2238.7L841.4 2237.2L844.6 2235.5L847.8 2233.7L851.0 2231.8L854.2 2229.7L857.3 2227.5L860.5 2225.2L863.7 2222.7L866.8 2220.2L870.0 2217.5L873.2 2214.7L876.3 2211.8L879.5 2208.9L882.7 2205.8L885.8 2202.6L889.0 2199.4L892.1 2196.1L895.3 2192.8L898.5 2189.3L901.6 2185.9L904.8 2182.3L907.9 2178.8L911.1 2175.2L914.2 2171.5L917.4 2167.9L920.5 2164.2L923.7 2160.5L926.8 2156.8L929.9 2153.1L933.1 2149.4L936.2 2145.7L939.4 2142.0L942.5 2138.3L945.7 2134.7L948.8 2131.1L952.0 2127.5L955.1 2124.0L958.3 2120.5L961.4 2117.1L964.5 2113.7L967.7 2110.3L970.8 2107.1L974.0 2103.8L977.1 2100.7L980.3 2097.6L983.4 2094.6L986.6 2091.7L989.7 2088.8L992.9 2086.0L996.1 2083.3L999.2 2080.7L1002.4 2078.2L1005.5 2075.7L1008.7 2073.4L1011.8 2071.1L1015.0 2069.0L1018.2 2066.9L1021.3 2064.9L1024.5 2063.0L1027.7 2061.3L1030.9 2059.6L1034.0 2058.0L1037.2 2056.5L1040.4 2055.1L1043.6 2053.8L1046.7 2052.7L1049.9 2051.6L1053.1 2050.6L1056.3 2049.7L1059.5 2049.0L1062.7 2048.3L1065.9 2047.8L1069.1 2047.3L1072.3 2046.9L1075.5 2046.7L1078.7 2046.5L1081.9 2046.5L1085.1 2046.6L1088.3 2046.7L1091.5 2047.0L1094.7 2047.4L1097.9 2047.8L1101.1 2048.4L1104.4 2049.1L1107.6 2049.9L1110.8 2050.8L1114.0 2051.8L1117.3 2052.9L1120.5 2054.1L1123.7 2055.4L1127.0 2056.8L1130.2 2058.3L1133.4 2059.9L1136.7 2061.6L1139.9 2063.4L1143.2 2065.3L1146.4 2067.3L1149.6 2069.4L1152.9 2071.5L1156.1 2073.8L1159.4 2076.2L1162.6 2078.6L1165.9 2081.2L1169.2 2083.8L1172.4 2086.5L1175.7 2089.3L1178.9 2092.2L1182.2 2095.2L1185.4 2098.2L1188.7 2101.3L1192.0 2104.4L1195.2 2107.7L1198.5 2111.0L1201.8 2114.3L1205.0 2117.7L1208.3 2121.2L1211.6 2124.7L1214.8 2128.2L1218.1 2131.8L1221.4 2135.4L1224.6 2139.0L1227.9 2142.7L1231.1 2146.4L1234.4 2150.1L1237.7 2153.8L1240.9 2157.5L1244.2 2161.2L1247.5 2164.9L1250.7 2168.6L1254.0 2172.2L1257.3 2175.8L1260.5 2179.4L1263.8 2183.0L1267.0 2186.5L1270.3 2190.0L1273.5 2193.4L1276.8 2196.8L1280.1 2200.0L1283.3 2203.2L1286.6 2206.4L1289.8 2209.4L1293.1 2212.4L1296.3 2215.2L1299.5 2218.0L1302.8 2220.6L1306.0 2223.2L1309.3 2225.6L1312.5 2227.9L1315.7 2230.1L1319.0 2232.1L1322.2 2234.1L1325.4 2235.8L1328.7 2237.5L1331.9 2239.0L1335.1 2240.3L1338.3 2241.5L1341.6 2242.5L1344.8 2243.4L1348.0 2244.2L1351.2 2244.7L1354.4 2245.1L1357.6 2245.4L1360.8 2245.5L1364.0 2245.4L1367.2 2245.2L1370.4 2244.8L1373.6 2244.3L1376.8 2243.6L1380.0 2242.7L1383.2 2241.7L1386.4 2240.5L1389.6 2239.2L1392.8 2237.8L1396.0 2236.2L1399.1 2234.4L1402.3 2232.5L1405.5 2230.5L1408.7 2228.3L1411.9 2226.1L1415.0 2223.7L1418.2 2221.1L1421.4 2218.5L1424.5 2215.8L1427.7 2212.9L1430.9 2210.0L1434.0 2207.0L1437.2 2203.9L1440.3 2200.7L1443.5 2197.4L1446.7 2194.1L1449.8 2190.7L1453.0 2187.2L1456.1 2183.7L1459.3 2180.1L1462.4 2176.5L1465.6 2172.9L1468.7 2169.3L1471.9 2165.6L1475.0 2161.9L1478.2 2158.2L1481.3 2154.5L1484.4 2150.8L1487.6 2147.1L1490.7 2143.4L1493.9 2139.7L1497.0 2136.1L1500.2 2132.5L1503.3 2128.9L1506.5 2125.3L1509.6 2121.8L1512.8 2118.4L1515.9 2115.0L1519.1 2111.6L1522.2 2108.3L1525.3 2105.1L1528.5 2101.9L1531.6 2098.8L1534.8 2095.7L1537.9 2092.8L1541.1 2089.9L1544.3 2087.1L1547.4 2084.3L1550.6 2081.7L1553.7 2079.1L1556.9 2076.7L1560.0 2074.3L1563.2 2072.0L1566.4 2069.8L1569.5 2067.7L1572.7 2065.7L1575.9 2063.7L1579.0 2061.9L1582.2 2060.2L1585.4 2058.6L1588.5 2057.1L1591.7 2055.6L1594.9 2054.3L1598.1 2053.1L1601.3 2052.0L1604.4 2051.0L1607.6 2050.1L1610.8 2049.3L1614.0 2048.6L1617.2 2048.0L1620.4 2047.5L1623.6 2047.1L1626.8 2046.8L1630.0 2046.6L1633.2 2046.5L1636.4 2046.5L1639.6 2046.7L1642.8 2046.9L1646.0 2047.2L1649.3 2047.7L1652.5 2048.2L1655.7 2048.8L1658.9 2049.6L1662.1 2050.4L1665.4 2051.4L1668.6 2052.5L1671.8 2053.6L1675.0 2054.9L1678.3 2056.2L1681.5 2057.7L1684.8 2059.3L1688.0 2060.9L1691.2 2062.7L1694.5 2064.5L1697.7 2066.5L1701.0 2068.6L1704.2 2070.7L1707.5 2072.9L1710.7 2075.3L1714.0 2077.7L1717.2 2080.2L1720.5 2082.8L1723.7 2085.5L1727.0 2088.2L1730.2 2091.1L1733.5 2094.0L1736.8 2097.0L1740.0 2100.1L1743.3 2103.2L1746.5 2106.4L1749.8 2109.7L1753.1 2113.0L1756.3 2116.4L1759.6 2119.8L1762.9 2123.3L1766.1 2126.8L1769.4 2130.4L1772.7 2134.0L1775.9 2137.6L1779.2 2141.3L1782.5 2145.0L1785.7 2148.7L1789.0 2152.4L1792.3 2156.1L1795.5 2159.8L1798.8 2163.5L1802.0 2167.1L1805.3 2170.8L1808.6 2174.5L1811.8 2178.1L1815.1 2181.6L1818.3 2185.2L1821.6 2188.7L1824.9 2192.1L1828.1 2195.5L1831.4 2198.8L1834.6 2202.0L1837.9 2205.2L1841.1 2208.3L1844.4 2211.3L1847.6 2214.2L1850.9 2216.9L1854.1 2219.6L1857.4 2222.2L1860.6 2224.7L1863.8 2227.0L1867.1 2229.3L1870.3 2231.4L1873.5 2233.3L1876.8 2235.2L1880.0 2236.9L1883.2 2238.4L1886.4 2239.8L1889.7 2241.1L1892.9 2242.2L1896.1 2243.1L1899.3 2243.9L1902.5 2244.5L1905.8 2245.0L1909.0 2245.3L1912.2 2245.5L1915.4 2245.5L1918.6 2245.3L1921.8 2245.0L1925.0 2244.5L1928.2 2243.9L1931.4 2243.1L1934.6 2242.1L1937.8 2241.0L1940.9 2239.8L1944.1 2238.3L1947.3 2236.8L1950.5 2235.1L1953.7 2233.3L1956.8 2231.3L1960.0 2229.2L1963.2 2227.0L1966.4 2224.6L1969.5 2222.1L1972.7 2219.5L1975.9 2216.8L1979.0 2214.0L1982.2 2211.1L1985.4 2208.1L1988.5 2205.1L1991.7 2201.9L1994.8 2198.7L1998.0 2195.3L2001.2 2192.0L2004.3 2188.5L2007.5 2185.0L2010.6 2181.5L2013.8 2177.9L2016.9 2174.3L2020.1 2170.7L2023.2 2167.0L2026.4 2163.3L2029.5 2159.6L2032.7 2155.9L2035.8 2152.2L2039.0 2148.5L2042.1 2144.8L2045.2 2141.2L2048.4 2137.5L2051.5 2133.9L2054.7 2130.3L2057.8 2126.7L2061.0 2123.2L2064.1 2119.7L2067.3 2116.3L2070.4 2112.9L2073.6 2109.6L2076.7 2106.3L2079.9 2103.1L2083.0 2100.0L2086.2 2096.9L2089.3 2093.9L2092.5 2091.0L2095.6 2088.1L2098.8 2085.4L2101.9 2082.7L2105.1 2080.1L2108.2 2077.6L2111.4 2075.2L2114.5 2072.9L2117.7 2070.6L2120.9 2068.5L2124.0 2066.4L2127.2 2064.5L2130.4 2062.6L2133.5 2060.9L2136.7 2059.2L2139.9 2057.6L2143.1 2056.2L2146.2 2054.8L2149.4 2053.6L2152.6 2052.4L2155.8 2051.4L2159.0 2050.4L2162.2 2049.6L2165.4 2048.8L2168.5 2048.2L2171.7 2047.6L2174.9 2047.2L2178.1 2046.9L2181.3 2046.6L2184.5 2046.5L2187.7 2046.5L2190.9 2046.6L2194.2 2046.8L2197.4 2047.1L2200.6 2047.5L2203.8 2048.0L2207.0 2048.6L2210.2 2049.3L2213.5 2050.1L2216.7 2051.0L2219.9 2052.0L2223.1 2053.2L2226.4 2054.4L2229.6 2055.7L2232.8 2057.1L2236.1 2058.6L2239.3 2060.3L2242.6 2062.0L2245.8 2063.8L2249.0 2065.7L2252.3 2067.8L2255.5 2069.9L2258.8 2072.1L2262.0 2074.4L2265.3 2076.8L2268.5 2079.2L2271.8 2081.8L2275.0 2084.4L2278.3 2087.2L2281.6 2090.0L2284.8 2092.9L2288.1 2095.8L2291.3 2098.9L2294.6 2102.0L2297.9 2105.2L2301.1 2108.4L2304.4 2111.7L2307.6 2115.1L2310.9 2118.5L2314.2 2122.0L2317.4 2125.5L2320.7 2129.0L2324.0 2132.6L2327.2 2136.2L2330.5 2139.9L2333.8 2143.6L2337.0 2147.2L2340.3 2150.9L2343.6 2154.6L2346.8 2158.3L2350.1 2162.0L2353.4 2165.7L2356.6 2169.4L2359.9 2173.1L2363.1 2176.7L2366.4 2180.3L2369.7 2183.8L2372.9 2187.3L2376.2 2190.8L2379.4 2194.2L2382.7 2197.5L2385.9 2200.8L2389.2 2204.0L2392.4 2207.1L2395.7 2210.1L2398.9 2213.1L2402.2 2215.9" fill="none" stroke="#00aa00" stroke-width="14.0" stroke-linejoin="round"/>
<g fill="none" stroke="rgba(0,0,0,0.6)" stroke-width="3.3">
<rect x="185.5" y="42.5" width="2183.8" height="478"/>
<rect x="185.5" y="642.8" width="2183.8" height="478.2"/>
<rect x="185.5" y="1243.3" width="2183.8" height="478"/>
<rect x="185.5" y="1843.7" width="2183.8" height="478.1"/>
</g>
<g fill="none" stroke="rgba(0,0,0,0.6)" stroke-width="3.3">
<path d="M154.2 121.5H183.8"/>
<path d="M154.2 279.6H183.8"/>
<path d="M154.2 438.1H183.8"/>
<path d="M154.2 642.8H183.8"/>
<path d="M154.2 880.1H183.8"/>
<path d="M154.2 1121H183.8"/>
<path d="M154.2 1243.3H183.8"/>
<path d="M154.2 1480.5H183.8"/>
<path d="M154.2 1721.3H183.8"/>
<path d="M154.2 1843.7H183.8"/>
<path d="M154.2 2081H183.8"/>
<path d="M154.2 2321.8H183.8"/>
<path d="M185.5 2323.5V2353"/>
<path d="M515.5 2323.5V2353"/>
<path d="M845.1 2323.5V2353"/>
<path d="M1175.1 2323.5V2353"/>
<path d="M1508.1 2323.5V2353"/>
<path d="M1837.8 2323.5V2353"/>
<path d="M2168 2323.5V2353"/>
</g>
<g filter="url(#soft)">
<g class="tk" text-anchor="end">
<text transform="translate(145 139.8) scale(0.943 1)">100</text>
<text transform="translate(145 301) scale(0.943 1)">0</text>
<text transform="translate(145 459.8) scale(0.943 1)">-100</text>
<text transform="translate(145 660.8) scale(0.943 1)">10</text>
<text transform="translate(145 901) scale(0.943 1)">0</text>
<text transform="translate(145 1138.9) scale(0.943 1)">-10</text>
<text transform="translate(145 1260.8) scale(0.943 1)">400</text>
<text transform="translate(145 1501.5) scale(0.943 1)">200</text>
<text transform="translate(145 1738.9) scale(0.943 1)">0</text>
<text transform="translate(145 1861.1) scale(0.943 1)">4</text>
<text transform="translate(145 2101.9) scale(0.943 1)">2</text>
<text transform="translate(145 2339.8) scale(0.943 1)">0</text>
</g>
<g class="tk" text-anchor="middle">
<text transform="translate(183 2408.6) scale(0.943 1)">0.0</text>
<text transform="translate(514 2408.6) scale(0.943 1)">0.5</text>
<text transform="translate(846.6 2408.6) scale(0.943 1)">1.0</text>
<text transform="translate(1176.1 2408.6) scale(0.943 1)">1.5</text>
<text transform="translate(1506.6 2408.6) scale(0.943 1)">2.0</text>
<text transform="translate(1836.3 2408.6) scale(0.943 1)">2.5</text>
<text transform="translate(2168.5 2408.6) scale(0.943 1)">3.0</text>
</g>
<text class="tk" transform="translate(2293 2408.6) scale(0.943 1)">× 1e-2</text>
</g>
<text x="1150" y="2495" font-size="77" fill="#000">5ms/div</text>
<text class="an" x="690" y="128" fill="#ff0000" style="white-space:pre">Source voltage <tspan class="it">v</tspan><tspan class="sub it" dy="14">s</tspan><tspan dy="-14"> 100V/div</tspan></text>
<text class="an" x="708" y="737.4" fill="#0070c0" style="white-space:pre">Source current <tspan class="it">i</tspan><tspan class="sub it" dy="14">s</tspan><tspan dy="-14"> 10A/div</tspan></text>
<text class="an" x="668" y="1343.8" fill="#ff00ff" style="white-space:pre">Output voltage <tspan class="it">v</tspan><tspan class="sub" dy="14">oB</tspan><tspan dy="-14"> 200V/div</tspan></text>
<text class="an" x="747.5" y="1945.3" fill="#00ff00" style="white-space:pre">LED current <tspan class="it">i</tspan><tspan class="sub" dy="14">LED</tspan><tspan dy="-14"> 2A/div</tspan></text>
</svg>
</body></html>
